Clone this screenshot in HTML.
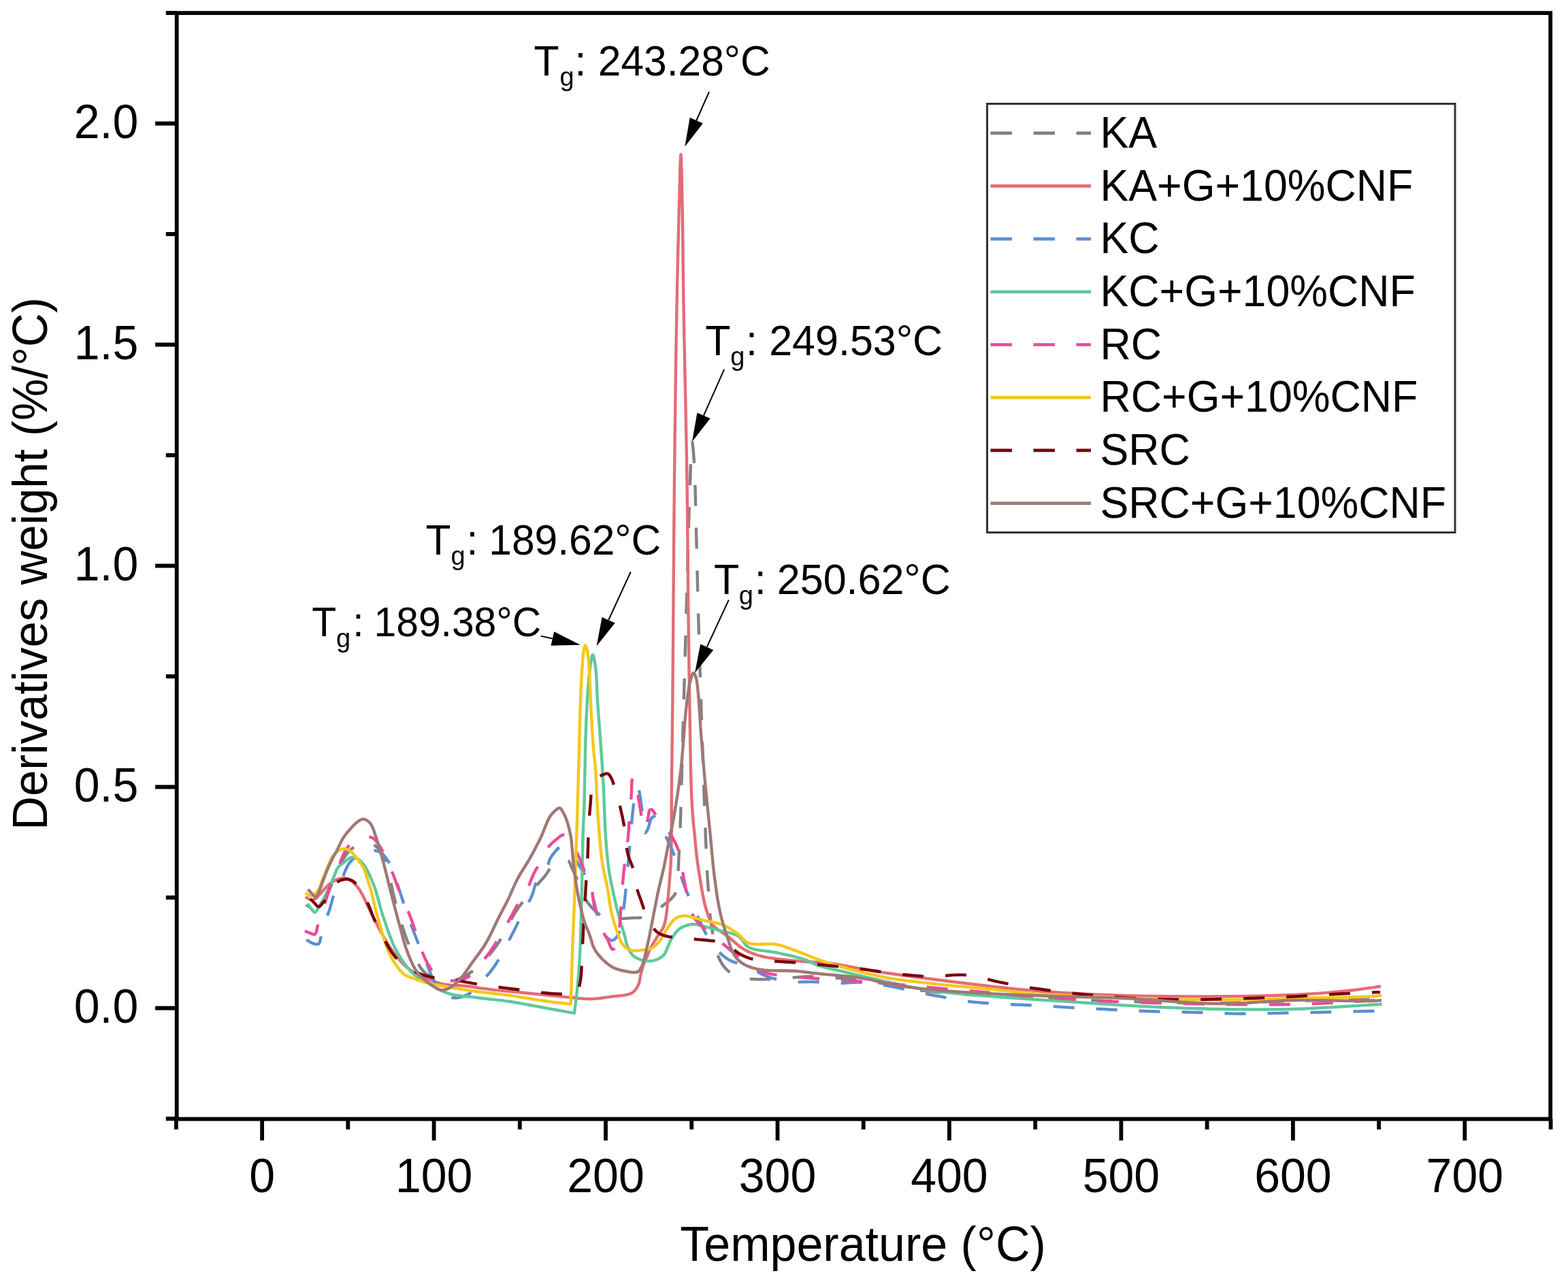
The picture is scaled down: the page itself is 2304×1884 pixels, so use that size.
<!DOCTYPE html>
<html><head><meta charset="utf-8"><title>DTG curves</title><style>html,body{margin:0;padding:0;background:#fff;overflow:hidden}</style></head><body>
<svg width="2304" height="1884" viewBox="0 0 2304 1884" style="display:block">
<rect width="2304" height="1884" fill="#fff"/>
<g font-family='"Liberation Sans", Arial, sans-serif' fill="#000">
<g fill="none" stroke-width="4.4" stroke-linejoin="round" stroke-linecap="butt">
<path d="M450.0,1330.0 L450.1,1330.1 L450.6,1330.3 L451.2,1330.6 L451.9,1331.0 L452.7,1331.4 L453.5,1331.9 L454.3,1332.5 L455.0,1333.0 L455.8,1333.7 L456.5,1334.6 L457.2,1335.5 L458.0,1336.4 L458.7,1337.4 L459.4,1338.4 L460.2,1339.2 L461.0,1340.0 L461.7,1340.7 L462.5,1341.4 L463.2,1342.1 L464.0,1342.7 L464.8,1343.3 L465.5,1343.7 L466.3,1344.0 L467.0,1344.0 L467.8,1343.7 L468.6,1343.1 L469.4,1342.2 L470.1,1341.1 L470.9,1339.9 L471.6,1338.6 L472.3,1337.3 L473.0,1336.0 L473.9,1334.2 L474.8,1332.1 L475.7,1330.0 L476.5,1327.7 L477.3,1325.3 L478.2,1322.9 L479.1,1320.4 L480.0,1318.0 L481.2,1315.1 L482.4,1312.0 L483.6,1308.9 L484.9,1305.7 L486.1,1302.5 L487.4,1299.3 L488.7,1296.1 L490.0,1293.0 L491.2,1290.0 L492.4,1287.1 L493.6,1284.1 L494.8,1281.2 L496.0,1278.3 L497.3,1275.5 L498.6,1272.7 L500.0,1270.0 L501.4,1267.5 L502.7,1265.1 L504.2,1262.7 L505.6,1260.4 L507.2,1258.1 L508.7,1255.9 L510.3,1253.9 L512.0,1252.0 L513.5,1250.5 L515.0,1249.0 L516.6,1247.6 L518.2,1246.3 L519.9,1245.1 L521.6,1244.0 L523.3,1242.9 L525.0,1242.0 L526.7,1241.2 L528.4,1240.4 L530.2,1239.7 L532.0,1239.1 L533.8,1238.6 L535.6,1238.2 L537.3,1238.0 L539.0,1238.0 L540.5,1238.1 L541.9,1238.4 L543.3,1238.8 L544.7,1239.2 L546.1,1239.8 L547.4,1240.5 L548.7,1241.2 L550.0,1242.0 L551.4,1242.9 L552.7,1243.9 L554.0,1245.0 L555.3,1246.2 L556.5,1247.4 L557.7,1248.8 L558.9,1250.3 L560.0,1252.0 L561.5,1254.7 L562.9,1257.7 L564.2,1261.1 L565.4,1264.6 L566.6,1268.3 L567.7,1272.2 L568.9,1276.1 L570.0,1280.0 L571.3,1284.8 L572.6,1289.8 L573.8,1295.0 L575.0,1300.3 L576.1,1305.7 L577.3,1311.1 L578.6,1316.6 L580.0,1322.0 L581.6,1327.9 L583.2,1334.0 L584.9,1340.1 L586.6,1346.3 L588.4,1352.4 L590.2,1358.4 L592.1,1364.3 L594.0,1370.0 L595.7,1375.0 L597.5,1379.9 L599.3,1384.7 L601.1,1389.5 L602.9,1394.1 L604.9,1398.6 L606.9,1402.9 L609.0,1407.0 L610.8,1410.3 L612.6,1413.5 L614.5,1416.6 L616.4,1419.6 L618.4,1422.5 L620.4,1425.2 L622.7,1427.7 L625.0,1430.0 L627.3,1432.0 L629.8,1434.0 L632.3,1435.8 L634.9,1437.4 L637.6,1438.9 L640.4,1440.2 L643.2,1441.2 L646.0,1442.0 L648.9,1442.5 L651.9,1442.7 L654.9,1442.6 L658.0,1442.4 L661.1,1442.0 L664.2,1441.4 L667.1,1440.8 L670.0,1440.0 L672.7,1439.1 L675.3,1438.1 L677.9,1436.9 L680.5,1435.6 L683.0,1434.2 L685.4,1432.8 L687.7,1431.4 L690.0,1430.0 L691.9,1428.8 L693.7,1427.7 L695.5,1426.5 L697.2,1425.4 L698.9,1424.2 L700.6,1422.9 L702.3,1421.5 L704.0,1420.0 L706.0,1418.1 L708.1,1416.0 L710.1,1413.8 L712.2,1411.5 L714.2,1409.1 L716.1,1406.7 L718.1,1404.4 L720.0,1402.0 L721.8,1399.7 L723.6,1397.5 L725.3,1395.4 L727.0,1393.2 L728.7,1390.9 L730.4,1388.4 L732.1,1385.8 L734.0,1383.0 L736.9,1378.3 L739.8,1373.0 L742.8,1367.2 L745.9,1361.2 L749.1,1355.1 L752.3,1349.1 L755.6,1343.3 L759.0,1338.0 L762.1,1333.5 L765.4,1329.0 L768.8,1324.6 L772.1,1320.4 L775.5,1316.3 L778.8,1312.3 L782.0,1308.6 L785.0,1305.0 L787.2,1302.5 L789.3,1300.1 L791.3,1297.9 L793.3,1295.7 L795.3,1293.6 L797.2,1291.4 L799.1,1289.3 L801.0,1287.0 L802.8,1284.6 L804.6,1281.9 L806.3,1279.2 L808.0,1276.5 L809.7,1273.9 L811.5,1271.6 L813.2,1269.6 L815.0,1268.0 L816.2,1267.2 L817.5,1266.6 L818.7,1266.2 L820.0,1265.8 L821.2,1265.6 L822.5,1265.4 L823.7,1265.2 L825.0,1265.0 L826.3,1264.8 L827.6,1264.6 L829.0,1264.4 L830.3,1264.2 L831.6,1264.2 L832.9,1264.3 L834.0,1264.5 L835.0,1265.0 L835.9,1265.7 L836.6,1266.7 L837.2,1267.9 L837.8,1269.2 L838.3,1270.6 L838.8,1272.1 L839.4,1273.5 L840.0,1275.0 L840.9,1276.9 L841.8,1278.8 L842.8,1280.8 L843.8,1282.9 L844.8,1285.0 L845.8,1287.3 L846.9,1289.6 L848.0,1292.0 L849.6,1295.6 L851.2,1299.7 L852.9,1304.0 L854.7,1308.4 L856.5,1312.8 L858.3,1316.9 L860.2,1320.7 L862.0,1324.0 L863.2,1325.9 L864.4,1327.5 L865.5,1329.1 L866.7,1330.5 L867.9,1331.9 L869.2,1333.2 L870.5,1334.6 L872.0,1336.0 L873.8,1337.8 L875.7,1339.6 L877.8,1341.5 L879.9,1343.3 L882.1,1345.1 L884.3,1346.6 L886.6,1348.0 L889.0,1349.0 L891.4,1349.7 L894.0,1350.1 L896.6,1350.3 L899.3,1350.4 L902.0,1350.3 L904.7,1350.2 L907.4,1350.1 L910.0,1350.0 L912.5,1350.0 L915.1,1349.9 L917.7,1349.8 L920.2,1349.6 L922.7,1349.5 L925.2,1349.3 L927.6,1349.1 L930.0,1349.0 L932.0,1348.9 L933.9,1348.9 L935.9,1348.9 L937.7,1348.8 L939.6,1348.8 L941.4,1348.6 L943.2,1348.4 L945.0,1348.0 L946.7,1347.5 L948.3,1346.9 L949.9,1346.3 L951.5,1345.5 L953.1,1344.7 L954.7,1343.9 L956.3,1343.0 L958.0,1342.0 L960.1,1340.8 L962.2,1339.4 L964.4,1337.9 L966.6,1336.3 L968.8,1334.7 L970.9,1333.1 L973.0,1331.5 L975.0,1330.0 L976.8,1328.6 L978.6,1327.3 L980.4,1325.9 L982.1,1324.5 L983.8,1323.1 L985.3,1321.7 L986.7,1320.4 L988.0,1319.0 L988.8,1318.1 L989.6,1317.2 L990.2,1316.4 L990.9,1315.6 L991.4,1314.7 L992.0,1313.6 L992.5,1312.4 L993.0,1311.0 L994.2,1306.3 L995.1,1300.3 L995.8,1293.3 L996.3,1285.4 L996.7,1276.9 L997.1,1268.1 L997.5,1259.0 L998.0,1250.0 L998.7,1236.9 L999.3,1222.7 L999.8,1207.7 L1000.3,1192.2 L1000.7,1176.4 L1001.1,1160.6 L1001.6,1145.0 L1002.0,1130.0 L1002.4,1116.1 L1002.8,1102.5 L1003.2,1089.0 L1003.5,1075.5 L1003.9,1062.0 L1004.2,1048.3 L1004.6,1034.4 L1005.0,1020.0 L1005.5,1003.3 L1006.0,986.2 L1006.5,968.7 L1007.0,951.1 L1007.5,933.2 L1008.0,915.4 L1008.5,897.6 L1009.0,880.0 L1009.5,862.3 L1010.0,844.3 L1010.5,826.1 L1010.9,808.1 L1011.4,790.2 L1011.9,772.8 L1012.4,756.0 L1013.0,740.0 L1013.5,726.6 L1013.9,711.9 L1014.4,696.9 L1014.9,682.5 L1015.4,669.7 L1015.9,659.4 L1016.4,652.5 L1017.0,650.0 L1017.4,650.8 L1017.7,652.9 L1018.1,656.1 L1018.5,660.1 L1018.9,664.8 L1019.3,669.8 L1019.7,675.0 L1020.0,680.0 L1020.5,689.6 L1021.0,700.7 L1021.4,712.8 L1021.7,725.8 L1022.0,739.3 L1022.3,753.0 L1022.7,766.7 L1023.0,780.0 L1023.4,794.6 L1023.8,809.5 L1024.1,824.7 L1024.5,840.0 L1024.9,855.3 L1025.2,870.5 L1025.6,885.4 L1026.0,900.0 L1026.4,912.9 L1026.7,925.4 L1027.1,937.8 L1027.4,950.0 L1027.8,962.2 L1028.2,974.6 L1028.6,987.1 L1029.0,1000.0 L1029.5,1014.6 L1030.0,1029.5 L1030.5,1044.7 L1031.0,1060.1 L1031.5,1075.4 L1032.0,1090.6 L1032.5,1105.5 L1033.0,1120.0 L1033.4,1132.9 L1033.9,1145.7 L1034.3,1158.5 L1034.7,1171.0 L1035.1,1183.3 L1035.6,1195.3 L1036.0,1206.9 L1036.4,1218.0 L1036.7,1226.6 L1037.0,1235.0 L1037.4,1243.3 L1037.7,1251.3 L1038.0,1259.0 L1038.3,1266.4 L1038.7,1273.4 L1039.0,1280.0 L1039.2,1284.3 L1039.5,1288.2 L1039.7,1292.0 L1040.0,1295.6 L1040.2,1299.2 L1040.5,1302.7 L1040.8,1306.3 L1041.0,1310.0 L1041.2,1313.9 L1041.4,1317.8 L1041.6,1321.7 L1041.8,1325.6 L1042.0,1329.6 L1042.3,1333.6 L1042.6,1337.7 L1043.0,1342.0 L1043.6,1347.4 L1044.4,1353.3 L1045.3,1359.4 L1046.2,1365.6 L1047.2,1371.6 L1048.1,1377.3 L1049.1,1382.5 L1050.0,1387.0 L1050.5,1389.3 L1050.9,1391.3 L1051.4,1393.2 L1051.8,1395.0 L1052.3,1396.7 L1052.8,1398.5 L1053.3,1400.2 L1054.0,1402.0 L1054.8,1404.0 L1055.7,1406.1 L1056.6,1408.3 L1057.6,1410.4 L1058.7,1412.4 L1059.8,1414.4 L1060.9,1416.3 L1062.0,1418.0 L1062.9,1419.3 L1063.8,1420.5 L1064.7,1421.7 L1065.7,1422.8 L1066.7,1423.8 L1067.7,1424.9 L1068.8,1425.9 L1070.0,1427.0 L1071.6,1428.4 L1073.2,1429.8 L1075.0,1431.2 L1076.8,1432.5 L1078.7,1433.9 L1080.7,1435.1 L1082.8,1436.1 L1085.0,1437.0 L1087.8,1437.8 L1090.8,1438.3 L1093.9,1438.6 L1097.2,1438.8 L1100.5,1438.9 L1103.8,1438.9 L1107.0,1438.9 L1110.0,1439.0 L1112.6,1439.1 L1115.1,1439.2 L1117.5,1439.2 L1119.9,1439.2 L1122.3,1439.2 L1124.8,1439.1 L1127.3,1439.1 L1130.0,1439.0 L1133.5,1438.9 L1137.1,1438.7 L1140.8,1438.4 L1144.6,1438.1 L1148.4,1437.8 L1152.3,1437.5 L1156.2,1437.3 L1160.0,1437.0 L1163.9,1436.7 L1167.8,1436.4 L1171.6,1436.1 L1175.5,1435.7 L1179.5,1435.5 L1183.5,1435.2 L1187.7,1435.1 L1192.0,1435.0 L1197.6,1435.1 L1203.4,1435.3 L1209.4,1435.6 L1215.5,1436.0 L1221.7,1436.4 L1227.9,1437.0 L1234.0,1437.5 L1240.0,1438.0 L1245.6,1438.5 L1251.1,1439.0 L1256.5,1439.5 L1261.9,1440.1 L1267.4,1440.7 L1272.8,1441.4 L1278.4,1442.2 L1284.0,1443.0 L1290.2,1444.0 L1296.4,1445.2 L1302.6,1446.6 L1308.9,1447.9 L1315.2,1449.3 L1321.7,1450.6 L1328.3,1451.9 L1335.0,1453.0 L1342.6,1454.1 L1350.3,1455.1 L1358.2,1456.0 L1366.1,1456.9 L1374.2,1457.7 L1382.6,1458.5 L1391.1,1459.2 L1400.0,1460.0 L1411.5,1460.9 L1423.5,1461.8 L1435.9,1462.6 L1448.6,1463.3 L1461.5,1464.0 L1474.5,1464.7 L1487.3,1465.4 L1500.0,1466.0 L1512.5,1466.6 L1525.0,1467.2 L1537.5,1467.7 L1550.0,1468.2 L1562.5,1468.7 L1575.0,1469.1 L1587.5,1469.6 L1600.0,1470.0 L1612.5,1470.4 L1625.0,1470.9 L1637.5,1471.3 L1650.0,1471.7 L1662.5,1472.1 L1675.0,1472.4 L1687.5,1472.7 L1700.0,1473.0 L1712.5,1473.2 L1725.0,1473.5 L1737.5,1473.7 L1750.0,1473.9 L1762.5,1474.0 L1775.0,1474.1 L1787.5,1474.1 L1800.0,1474.0 L1812.4,1473.8 L1824.7,1473.5 L1836.9,1473.2 L1849.2,1472.7 L1861.5,1472.3 L1874.1,1471.8 L1886.9,1471.4 L1900.0,1471.0 L1917.2,1470.6 L1937.4,1470.1 L1958.9,1469.6 L1980.2,1469.1 L1999.5,1468.7 L2015.4,1468.3 L2026.1,1468.1 L2030.0,1468.0" stroke="#828282" stroke-dasharray="31 32" stroke-dashoffset="20.7"/>
<path d="M449.0,1318.0 L449.2,1318.2 L449.8,1318.6 L450.6,1319.1 L451.6,1319.8 L452.7,1320.5 L453.9,1321.2 L455.0,1321.7 L456.0,1322.0 L456.9,1322.1 L457.7,1322.2 L458.6,1322.2 L459.5,1322.1 L460.4,1321.9 L461.3,1321.7 L462.2,1321.4 L463.0,1321.0 L463.9,1320.4 L464.8,1319.7 L465.7,1318.9 L466.5,1318.0 L467.4,1317.0 L468.2,1316.0 L469.1,1315.0 L470.0,1314.0 L471.2,1312.7 L472.4,1311.4 L473.6,1310.0 L474.9,1308.5 L476.1,1307.1 L477.4,1305.6 L478.7,1304.3 L480.0,1303.0 L481.2,1301.9 L482.4,1300.8 L483.7,1299.7 L484.9,1298.6 L486.2,1297.6 L487.4,1296.7 L488.7,1295.8 L490.0,1295.0 L491.2,1294.3 L492.5,1293.7 L493.8,1293.1 L495.0,1292.6 L496.3,1292.1 L497.6,1291.7 L498.8,1291.3 L500.0,1291.0 L500.9,1290.8 L501.8,1290.6 L502.7,1290.5 L503.5,1290.4 L504.4,1290.4 L505.2,1290.4 L506.1,1290.5 L507.0,1290.6 L508.2,1290.9 L509.4,1291.2 L510.7,1291.6 L512.0,1292.1 L513.2,1292.7 L514.5,1293.4 L515.8,1294.2 L517.0,1295.0 L518.5,1296.2 L520.0,1297.6 L521.5,1299.1 L522.9,1300.7 L524.4,1302.4 L525.8,1304.3 L527.3,1306.3 L528.7,1308.4 L530.7,1311.7 L532.8,1315.4 L534.8,1319.4 L536.8,1323.6 L538.8,1328.0 L540.8,1332.3 L542.8,1336.5 L544.8,1340.6 L546.7,1344.4 L548.6,1348.1 L550.5,1351.9 L552.4,1355.6 L554.3,1359.2 L556.1,1362.9 L558.1,1366.5 L560.0,1370.0 L561.8,1373.3 L563.7,1376.5 L565.5,1379.7 L567.4,1382.9 L569.2,1386.1 L571.1,1389.1 L573.0,1392.1 L575.0,1395.0 L576.8,1397.6 L578.6,1400.1 L580.5,1402.6 L582.3,1405.0 L584.2,1407.4 L586.1,1409.7 L588.0,1411.9 L590.0,1414.0 L591.8,1415.8 L593.6,1417.6 L595.4,1419.3 L597.2,1421.0 L599.0,1422.6 L601.0,1424.1 L602.9,1425.6 L605.0,1427.0 L607.3,1428.4 L609.6,1429.8 L612.1,1431.1 L614.6,1432.3 L617.1,1433.5 L619.7,1434.7 L622.3,1435.9 L625.0,1437.0 L627.9,1438.3 L630.9,1439.5 L633.9,1440.8 L637.0,1442.0 L640.1,1443.1 L643.3,1444.2 L646.6,1445.2 L650.0,1446.0 L654.0,1446.7 L658.1,1447.2 L662.3,1447.6 L666.6,1447.9 L670.9,1448.1 L675.3,1448.3 L679.7,1448.6 L684.0,1449.0 L688.4,1449.5 L692.9,1450.1 L697.3,1450.8 L701.8,1451.5 L706.3,1452.1 L710.8,1452.8 L715.4,1453.4 L720.0,1454.0 L724.9,1454.6 L729.8,1455.1 L734.8,1455.6 L739.9,1456.1 L744.9,1456.6 L749.9,1457.0 L755.0,1457.5 L760.0,1458.0 L765.0,1458.5 L770.0,1459.0 L775.0,1459.5 L780.0,1460.0 L785.0,1460.5 L790.0,1461.0 L795.0,1461.5 L800.0,1462.0 L805.0,1462.5 L810.2,1463.0 L815.3,1463.6 L820.4,1464.1 L825.5,1464.6 L830.5,1465.1 L835.3,1465.6 L840.0,1466.0 L843.7,1466.3 L847.3,1466.7 L850.8,1467.1 L854.2,1467.4 L857.6,1467.7 L861.0,1467.9 L864.5,1468.0 L868.0,1468.0 L871.8,1467.8 L875.7,1467.6 L879.6,1467.2 L883.5,1466.7 L887.4,1466.2 L891.3,1465.6 L895.2,1465.1 L899.0,1464.5 L902.8,1464.0 L906.7,1463.7 L910.7,1463.3 L914.7,1462.9 L918.5,1462.4 L922.0,1461.7 L925.2,1460.8 L928.0,1459.5 L929.7,1458.4 L931.3,1457.1 L932.7,1455.7 L933.9,1454.2 L935.0,1452.6 L936.1,1451.0 L937.0,1449.3 L937.9,1447.6 L938.7,1445.7 L939.3,1443.7 L939.8,1441.6 L940.2,1439.4 L940.5,1437.3 L940.9,1435.1 L941.2,1433.0 L941.7,1431.0 L942.1,1429.3 L942.6,1427.6 L943.0,1426.0 L943.5,1424.3 L944.0,1422.7 L944.4,1421.2 L945.0,1419.6 L945.5,1418.0 L946.1,1416.5 L946.7,1414.9 L947.3,1413.4 L948.0,1412.0 L948.6,1410.5 L949.3,1409.0 L950.0,1407.5 L950.6,1406.0 L951.2,1404.5 L951.8,1403.0 L952.4,1401.6 L952.9,1400.1 L953.5,1398.6 L954.2,1397.1 L954.9,1395.6 L955.6,1394.0 L956.6,1392.1 L957.7,1390.1 L958.8,1388.1 L960.0,1386.1 L961.3,1384.1 L962.5,1382.0 L963.8,1380.0 L965.0,1378.0 L966.3,1376.0 L967.6,1374.0 L969.0,1372.1 L970.3,1370.1 L971.7,1368.1 L972.9,1366.1 L974.0,1364.1 L975.0,1362.0 L975.8,1360.0 L976.4,1357.9 L977.0,1355.9 L977.5,1353.8 L977.9,1351.7 L978.3,1349.5 L978.6,1347.3 L979.0,1345.0 L979.4,1342.1 L979.8,1339.1 L980.1,1335.9 L980.4,1332.7 L980.7,1329.5 L981.0,1326.3 L981.2,1323.1 L981.5,1320.0 L981.8,1317.2 L982.0,1314.5 L982.3,1311.9 L982.5,1309.3 L982.8,1306.6 L983.0,1303.9 L983.3,1301.0 L983.5,1298.0 L983.8,1293.9 L984.2,1289.7 L984.5,1285.4 L984.8,1280.9 L985.2,1276.2 L985.5,1271.1 L985.8,1265.8 L986.0,1260.0 L986.3,1248.9 L986.5,1236.3 L986.7,1222.5 L986.7,1207.9 L986.8,1193.0 L986.8,1178.1 L986.9,1163.6 L987.0,1150.0 L987.1,1138.4 L987.2,1127.1 L987.4,1116.0 L987.5,1105.0 L987.6,1094.0 L987.8,1082.9 L987.9,1071.6 L988.0,1060.0 L988.1,1047.1 L988.3,1034.3 L988.4,1021.5 L988.5,1008.5 L988.6,995.0 L988.7,980.9 L988.9,966.0 L989.0,950.0 L989.2,923.6 L989.4,894.6 L989.6,863.7 L989.9,831.3 L990.1,798.2 L990.4,764.9 L990.7,731.9 L991.0,700.0 L991.4,668.3 L991.7,636.0 L992.2,603.5 L992.6,571.0 L993.0,539.1 L993.5,508.0 L994.0,478.2 L994.5,450.0 L994.9,429.1 L995.3,408.6 L995.8,388.6 L996.2,369.3 L996.7,350.7 L997.1,332.8 L997.6,315.9 L998.0,300.0 L998.3,288.6 L998.6,276.5 L998.9,264.3 L999.2,252.7 L999.5,242.5 L999.8,234.4 L1000.1,229.0 L1000.4,227.0 L1000.7,229.0 L1001.0,234.4 L1001.2,242.5 L1001.5,252.7 L1001.8,264.3 L1002.0,276.5 L1002.3,288.6 L1002.5,300.0 L1002.8,315.9 L1003.0,332.9 L1003.3,350.7 L1003.5,369.4 L1003.7,388.7 L1003.9,408.7 L1004.2,429.1 L1004.5,450.0 L1005.0,477.9 L1005.6,507.6 L1006.2,538.5 L1006.9,570.1 L1007.6,602.1 L1008.2,633.9 L1008.8,665.0 L1009.3,695.0 L1009.7,721.7 L1010.0,748.2 L1010.2,774.4 L1010.5,800.4 L1010.7,826.0 L1010.9,851.1 L1011.1,875.8 L1011.4,900.0 L1011.7,920.8 L1011.9,941.4 L1012.2,961.8 L1012.5,981.8 L1012.8,1001.3 L1013.1,1020.3 L1013.4,1038.5 L1013.7,1056.0 L1013.9,1069.1 L1014.1,1081.9 L1014.3,1094.3 L1014.5,1106.3 L1014.7,1117.9 L1014.9,1129.1 L1015.2,1139.8 L1015.5,1150.0 L1015.8,1157.1 L1016.0,1164.0 L1016.3,1170.7 L1016.6,1177.1 L1016.9,1183.2 L1017.3,1189.1 L1017.6,1194.7 L1018.0,1200.0 L1018.3,1203.5 L1018.6,1206.8 L1018.9,1209.8 L1019.2,1212.8 L1019.5,1215.7 L1019.8,1218.7 L1020.2,1221.7 L1020.5,1225.0 L1020.9,1229.1 L1021.3,1233.4 L1021.7,1237.9 L1022.1,1242.4 L1022.6,1246.9 L1023.0,1251.4 L1023.5,1255.8 L1024.0,1260.0 L1024.4,1263.6 L1024.9,1267.0 L1025.3,1270.4 L1025.8,1273.7 L1026.2,1277.1 L1026.8,1280.5 L1027.4,1284.2 L1028.0,1288.0 L1029.0,1293.7 L1030.0,1299.9 L1031.1,1306.4 L1032.3,1313.2 L1033.6,1319.8 L1035.0,1326.2 L1036.5,1332.2 L1038.0,1337.5 L1039.1,1340.8 L1040.1,1344.0 L1041.1,1347.0 L1042.2,1349.8 L1043.4,1352.6 L1044.8,1355.1 L1046.3,1357.6 L1048.0,1360.0 L1050.0,1362.2 L1052.3,1364.2 L1054.7,1366.1 L1057.3,1367.8 L1059.9,1369.5 L1062.6,1371.3 L1065.3,1373.1 L1068.0,1375.0 L1071.0,1377.4 L1074.0,1380.0 L1077.1,1382.7 L1080.2,1385.4 L1083.3,1388.1 L1086.5,1390.6 L1089.7,1392.9 L1093.0,1395.0 L1096.0,1396.7 L1098.9,1398.2 L1101.8,1399.5 L1104.8,1400.8 L1107.8,1401.9 L1111.0,1403.0 L1114.4,1404.0 L1118.0,1405.0 L1123.4,1406.3 L1129.2,1407.4 L1135.3,1408.3 L1141.7,1409.2 L1148.3,1409.9 L1154.9,1410.6 L1161.5,1411.3 L1168.0,1412.0 L1174.6,1412.6 L1181.3,1413.1 L1187.9,1413.5 L1194.6,1413.8 L1201.4,1414.2 L1208.2,1414.7 L1215.1,1415.2 L1222.0,1416.0 L1229.5,1417.0 L1236.9,1418.3 L1244.3,1419.6 L1251.8,1421.1 L1259.4,1422.6 L1267.3,1424.1 L1275.5,1425.6 L1284.0,1427.0 L1295.4,1428.8 L1307.3,1430.5 L1319.5,1432.3 L1332.2,1434.0 L1345.2,1435.8 L1358.6,1437.5 L1372.2,1439.3 L1386.0,1441.0 L1403.1,1443.1 L1420.8,1445.3 L1439.1,1447.5 L1457.7,1449.6 L1476.6,1451.7 L1495.7,1453.7 L1514.9,1455.4 L1534.0,1457.0 L1554.2,1458.4 L1574.4,1459.7 L1594.9,1460.7 L1615.4,1461.7 L1636.2,1462.4 L1657.2,1463.1 L1678.5,1463.6 L1700.0,1464.0 L1724.6,1464.3 L1750.5,1464.4 L1777.2,1464.4 L1803.9,1464.2 L1830.0,1463.9 L1855.0,1463.4 L1878.2,1462.8 L1899.0,1462.0 L1911.0,1461.4 L1922.3,1460.8 L1932.9,1460.1 L1943.0,1459.4 L1952.7,1458.6 L1962.0,1457.8 L1971.1,1456.9 L1980.0,1456.0 L1987.4,1455.2 L1995.4,1454.2 L2003.6,1453.1 L2011.4,1452.0 L2018.3,1451.1 L2023.9,1450.2 L2027.6,1449.7 L2029.0,1449.5" stroke="#E46C75"/>
<path d="M450.5,1381.0 L450.7,1381.2 L451.4,1381.6 L452.4,1382.3 L453.6,1383.1 L455.0,1384.0 L456.4,1384.8 L457.8,1385.5 L459.0,1386.0 L460.1,1386.4 L461.3,1386.8 L462.5,1387.2 L463.7,1387.5 L464.9,1387.7 L466.0,1387.7 L467.1,1387.5 L468.0,1387.0 L469.3,1385.4 L470.2,1383.0 L470.9,1379.9 L471.5,1376.3 L472.0,1372.5 L472.5,1368.6 L473.1,1364.9 L474.0,1361.6 L475.0,1358.7 L476.2,1355.8 L477.4,1353.0 L478.7,1350.3 L479.9,1347.5 L481.2,1344.7 L482.4,1341.9 L483.5,1339.0 L484.5,1336.0 L485.4,1333.0 L486.2,1329.9 L487.1,1326.8 L487.9,1323.7 L488.8,1320.7 L489.7,1317.7 L490.8,1314.8 L491.9,1312.1 L493.2,1309.5 L494.5,1306.9 L495.8,1304.4 L497.2,1301.9 L498.5,1299.3 L499.9,1296.7 L501.3,1294.0 L502.8,1290.8 L504.2,1287.3 L505.7,1283.8 L507.1,1280.2 L508.7,1276.7 L510.3,1273.3 L512.1,1270.2 L514.0,1267.5 L515.8,1265.5 L517.6,1263.6 L519.6,1261.9 L521.6,1260.3 L523.7,1258.8 L525.8,1257.4 L527.9,1256.2 L530.0,1255.0 L531.8,1254.1 L533.7,1253.2 L535.6,1252.4 L537.5,1251.7 L539.4,1251.1 L541.3,1250.6 L543.2,1250.2 L545.0,1250.0 L546.7,1249.9 L548.4,1249.9 L550.0,1249.9 L551.7,1250.1 L553.3,1250.4 L554.9,1250.8 L556.5,1251.3 L558.0,1252.0 L559.7,1253.0 L561.3,1254.2 L562.8,1255.6 L564.3,1257.2 L565.8,1259.0 L567.2,1260.9 L568.6,1262.9 L570.0,1265.0 L572.0,1268.4 L573.8,1272.3 L575.6,1276.5 L577.3,1281.0 L579.0,1285.7 L580.6,1290.5 L582.3,1295.3 L584.0,1300.0 L585.9,1305.4 L587.8,1310.9 L589.6,1316.6 L591.5,1322.3 L593.3,1328.1 L595.2,1333.8 L597.1,1339.5 L599.0,1345.0 L600.8,1350.2 L602.7,1355.3 L604.6,1360.5 L606.5,1365.5 L608.4,1370.6 L610.3,1375.5 L612.2,1380.3 L614.0,1385.0 L615.6,1389.0 L617.1,1392.8 L618.7,1396.6 L620.2,1400.3 L621.8,1404.0 L623.3,1407.6 L624.9,1411.3 L626.5,1415.0 L628.1,1418.8 L629.6,1422.7 L631.0,1426.6 L632.5,1430.6 L634.1,1434.4 L635.8,1438.1 L637.8,1441.7 L640.0,1445.0 L642.5,1448.2 L645.1,1451.5 L648.0,1454.8 L651.0,1457.8 L654.2,1460.6 L657.4,1463.0 L660.7,1464.8 L664.0,1466.0 L667.1,1466.5 L670.4,1466.5 L673.8,1466.1 L677.2,1465.3 L680.6,1464.3 L683.9,1463.0 L687.0,1461.5 L690.0,1460.0 L692.8,1458.2 L695.5,1456.0 L698.1,1453.6 L700.6,1450.9 L703.0,1448.2 L705.4,1445.4 L707.7,1442.6 L710.0,1440.0 L712.2,1437.6 L714.3,1435.3 L716.3,1433.0 L718.3,1430.7 L720.4,1428.3 L722.4,1425.7 L724.4,1423.0 L726.5,1420.0 L729.6,1415.3 L732.7,1410.1 L735.9,1404.4 L739.1,1398.6 L742.3,1392.5 L745.5,1386.5 L748.6,1380.6 L751.5,1375.0 L754.1,1369.9 L756.8,1364.7 L759.3,1359.6 L761.8,1354.4 L764.3,1349.5 L766.6,1344.7 L768.9,1340.2 L771.0,1336.0 L772.4,1333.4 L773.7,1331.0 L775.0,1328.8 L776.3,1326.6 L777.5,1324.5 L778.7,1322.3 L779.8,1320.0 L781.0,1317.5 L782.3,1314.2 L783.5,1310.6 L784.6,1306.8 L785.7,1303.0 L786.9,1299.2 L788.1,1295.5 L789.5,1292.1 L791.0,1289.0 L792.4,1286.8 L794.1,1284.8 L795.8,1282.9 L797.6,1281.1 L799.4,1279.3 L801.0,1277.6 L802.5,1275.9 L803.8,1274.0 L804.6,1272.4 L805.3,1270.8 L805.8,1269.2 L806.3,1267.5 L806.7,1265.9 L807.3,1264.3 L807.9,1262.6 L808.8,1261.0 L810.2,1258.8 L811.9,1256.3 L813.8,1253.8 L815.8,1251.3 L817.9,1249.0 L820.0,1246.9 L821.9,1245.1 L823.8,1243.8 L824.9,1243.2 L825.9,1242.7 L826.9,1242.2 L828.0,1241.9 L829.0,1241.6 L830.0,1241.6 L831.0,1241.7 L832.0,1242.0 L833.7,1243.1 L835.3,1244.8 L836.8,1247.1 L838.4,1249.8 L840.0,1252.7 L841.6,1255.9 L843.3,1259.0 L845.0,1262.0 L847.5,1266.1 L850.3,1270.7 L853.3,1275.5 L856.3,1280.5 L859.1,1285.4 L861.8,1290.3 L864.1,1294.8 L866.0,1299.0 L867.0,1301.5 L867.7,1303.8 L868.3,1306.0 L868.8,1308.1 L869.3,1310.2 L869.8,1312.4 L870.3,1314.8 L871.0,1317.5 L872.2,1322.2 L873.5,1327.6 L874.9,1333.5 L876.4,1339.6 L877.9,1345.6 L879.4,1351.3 L881.0,1356.6 L882.5,1361.0 L883.4,1363.4 L884.2,1365.6 L885.1,1367.6 L885.9,1369.6 L886.8,1371.4 L887.8,1373.1 L888.8,1374.6 L890.0,1376.0 L891.1,1377.1 L892.3,1378.3 L893.6,1379.4 L894.9,1380.3 L896.2,1381.1 L897.5,1381.7 L898.8,1382.0 L900.0,1382.0 L901.4,1381.5 L902.7,1380.7 L904.1,1379.4 L905.4,1377.9 L906.6,1376.1 L907.8,1374.2 L909.0,1372.1 L910.0,1370.0 L911.4,1366.3 L912.6,1361.9 L913.6,1357.1 L914.4,1351.9 L915.0,1346.5 L915.7,1340.9 L916.3,1335.4 L917.0,1330.0 L917.8,1324.0 L918.5,1317.8 L919.1,1311.6 L919.7,1305.2 L920.3,1298.8 L920.9,1292.5 L921.4,1286.2 L922.0,1280.0 L922.5,1274.2 L923.1,1268.5 L923.6,1262.7 L924.1,1257.0 L924.6,1251.4 L925.1,1245.8 L925.5,1240.3 L926.0,1235.0 L926.4,1230.4 L926.8,1225.8 L927.1,1221.3 L927.5,1216.9 L927.9,1212.5 L928.2,1208.2 L928.6,1204.1 L929.0,1200.0 L929.4,1196.6 L929.7,1193.4 L930.1,1190.2 L930.4,1187.0 L930.8,1183.9 L931.2,1180.9 L931.6,1177.9 L932.0,1175.0 L932.3,1172.3 L932.6,1169.3 L932.9,1166.2 L933.2,1163.2 L933.5,1160.5 L933.9,1158.3 L934.4,1156.7 L935.0,1156.0 L935.3,1156.0 L935.6,1156.0 L935.9,1156.2 L936.2,1156.4 L936.6,1156.7 L936.9,1157.1 L937.2,1157.5 L937.5,1158.0 L938.2,1159.6 L938.9,1161.7 L939.5,1164.3 L940.1,1167.3 L940.6,1170.4 L941.1,1173.7 L941.5,1176.9 L942.0,1180.0 L942.5,1183.6 L942.9,1187.4 L943.2,1191.4 L943.5,1195.4 L943.9,1199.4 L944.2,1203.2 L944.6,1206.8 L945.0,1210.0 L945.3,1212.2 L945.6,1214.5 L945.9,1216.8 L946.3,1219.0 L946.6,1220.9 L947.0,1222.5 L947.5,1223.5 L948.0,1224.0 L948.4,1223.9 L948.9,1223.5 L949.4,1222.9 L949.9,1222.0 L950.5,1221.1 L951.0,1220.0 L951.5,1219.0 L952.0,1218.0 L952.7,1216.4 L953.3,1214.5 L953.8,1212.4 L954.4,1210.2 L955.0,1208.0 L955.6,1206.1 L956.3,1204.3 L957.0,1203.0 L957.5,1202.4 L957.9,1201.8 L958.5,1201.3 L959.0,1200.8 L959.5,1200.4 L960.0,1200.1 L960.5,1200.0 L961.0,1200.0 L961.6,1200.3 L962.3,1201.0 L962.9,1201.9 L963.5,1203.0 L964.1,1204.2 L964.7,1205.5 L965.3,1206.8 L966.0,1208.0 L967.0,1209.6 L968.0,1211.3 L969.1,1213.0 L970.3,1214.8 L971.4,1216.7 L972.6,1218.7 L973.8,1220.8 L975.0,1223.0 L976.8,1226.4 L978.6,1230.0 L980.5,1233.8 L982.5,1237.8 L984.4,1242.0 L986.3,1246.3 L988.2,1250.6 L990.0,1255.0 L992.0,1260.3 L993.9,1265.8 L995.7,1271.5 L997.5,1277.4 L999.4,1283.2 L1001.2,1289.0 L1003.1,1294.6 L1005.0,1300.0 L1006.8,1304.6 L1008.5,1309.0 L1010.3,1313.2 L1012.1,1317.5 L1013.9,1321.7 L1015.9,1326.0 L1017.9,1330.4 L1020.0,1335.0 L1022.7,1341.0 L1025.6,1347.4 L1028.5,1354.0 L1031.6,1360.8 L1034.8,1367.4 L1038.1,1373.8 L1041.5,1379.7 L1045.0,1385.0 L1047.8,1388.8 L1050.7,1392.5 L1053.6,1395.9 L1056.6,1399.1 L1059.8,1402.2 L1063.0,1405.0 L1066.4,1407.6 L1070.0,1410.0 L1074.0,1412.1 L1078.5,1413.9 L1083.1,1415.4 L1087.9,1416.7 L1092.6,1417.9 L1097.1,1419.1 L1101.3,1420.5 L1105.0,1422.0 L1107.2,1423.2 L1109.1,1424.5 L1110.8,1425.8 L1112.5,1427.1 L1114.1,1428.4 L1115.9,1429.6 L1117.8,1430.9 L1120.0,1432.0 L1123.6,1433.5 L1127.5,1435.0 L1131.7,1436.5 L1136.2,1437.8 L1140.8,1439.1 L1145.5,1440.2 L1150.3,1441.2 L1155.0,1442.0 L1160.4,1442.6 L1166.0,1443.0 L1171.8,1443.1 L1177.7,1443.1 L1183.5,1443.0 L1189.2,1442.9 L1194.8,1442.9 L1200.0,1443.0 L1204.0,1443.2 L1207.8,1443.5 L1211.5,1443.8 L1215.0,1444.1 L1218.6,1444.4 L1222.3,1444.7 L1226.0,1444.9 L1230.0,1445.0 L1234.9,1445.0 L1239.8,1444.8 L1244.8,1444.4 L1249.9,1444.1 L1255.2,1443.8 L1260.8,1443.6 L1266.7,1443.6 L1273.0,1444.0 L1284.1,1445.3 L1296.6,1447.3 L1310.2,1449.8 L1324.3,1452.7 L1338.4,1455.7 L1352.0,1458.6 L1364.7,1461.3 L1376.0,1463.5 L1382.7,1464.7 L1388.9,1465.9 L1394.8,1467.1 L1400.4,1468.1 L1405.9,1469.1 L1411.4,1470.0 L1417.1,1470.9 L1423.0,1471.7 L1429.7,1472.5 L1436.6,1473.1 L1443.6,1473.7 L1450.7,1474.2 L1457.8,1474.7 L1464.7,1475.1 L1471.5,1475.4 L1478.0,1475.8 L1483.4,1476.1 L1488.5,1476.3 L1493.5,1476.5 L1498.4,1476.6 L1503.3,1476.8 L1508.3,1477.0 L1513.5,1477.2 L1519.0,1477.4 L1526.1,1477.8 L1533.4,1478.2 L1541.0,1478.6 L1548.8,1479.1 L1556.6,1479.6 L1564.5,1480.1 L1572.3,1480.6 L1580.0,1481.0 L1587.5,1481.4 L1595.0,1481.8 L1602.5,1482.2 L1610.0,1482.6 L1617.5,1482.9 L1625.0,1483.3 L1632.5,1483.7 L1640.0,1484.0 L1647.5,1484.3 L1655.0,1484.7 L1662.5,1485.0 L1670.0,1485.4 L1677.5,1485.7 L1685.0,1486.0 L1692.5,1486.2 L1700.0,1486.5 L1707.5,1486.7 L1715.0,1486.9 L1722.5,1487.0 L1730.0,1487.2 L1737.5,1487.3 L1745.0,1487.5 L1752.5,1487.6 L1760.0,1487.8 L1767.4,1488.0 L1774.8,1488.3 L1782.1,1488.6 L1789.5,1488.9 L1796.9,1489.2 L1804.4,1489.4 L1812.1,1489.6 L1820.0,1489.7 L1829.2,1489.7 L1838.6,1489.7 L1848.1,1489.5 L1857.7,1489.3 L1867.6,1489.1 L1877.8,1488.9 L1888.2,1488.6 L1899.0,1488.4 L1914.8,1488.1 L1933.8,1487.7 L1954.2,1487.2 L1974.6,1486.8 L1993.2,1486.4 L2008.5,1486.0 L2018.9,1485.8 L2022.7,1485.7" stroke="#5B8FD0" stroke-dasharray="31 32" stroke-dashoffset="0.0"/>
<path d="M452.0,1328.0 L452.2,1328.3 L452.7,1328.9 L453.4,1329.9 L454.3,1331.2 L455.2,1332.5 L456.2,1333.8 L457.2,1335.0 L458.0,1336.0 L458.6,1336.7 L459.2,1337.5 L459.7,1338.3 L460.3,1339.0 L460.8,1339.7 L461.4,1340.2 L462.0,1340.5 L462.6,1340.6 L463.5,1340.3 L464.4,1339.4 L465.3,1338.2 L466.2,1336.8 L467.1,1335.1 L468.1,1333.3 L469.0,1331.6 L470.0,1330.0 L471.2,1328.0 L472.5,1325.9 L473.7,1323.7 L475.0,1321.5 L476.3,1319.1 L477.5,1316.8 L478.8,1314.4 L480.0,1312.0 L481.3,1309.3 L482.6,1306.6 L483.9,1303.8 L485.2,1300.9 L486.5,1298.1 L487.7,1295.3 L488.9,1292.6 L490.0,1290.0 L490.9,1287.9 L491.6,1285.9 L492.4,1283.9 L493.1,1281.9 L493.9,1280.0 L494.6,1278.2 L495.5,1276.5 L496.5,1275.0 L497.4,1273.9 L498.3,1272.9 L499.2,1272.0 L500.2,1271.2 L501.2,1270.4 L502.3,1269.6 L503.4,1268.8 L504.5,1268.0 L505.9,1266.9 L507.3,1265.7 L508.8,1264.5 L510.4,1263.2 L512.0,1262.1 L513.5,1261.2 L515.0,1260.4 L516.5,1260.0 L517.6,1259.9 L518.7,1259.9 L519.8,1260.0 L520.8,1260.3 L521.9,1260.6 L522.9,1261.0 L524.0,1261.5 L525.0,1262.0 L526.2,1262.7 L527.3,1263.4 L528.5,1264.2 L529.6,1265.2 L530.7,1266.2 L531.8,1267.3 L532.9,1268.6 L534.0,1270.0 L535.9,1272.7 L537.8,1275.8 L539.7,1279.3 L541.7,1283.1 L543.6,1287.2 L545.4,1291.4 L547.3,1295.7 L549.0,1300.0 L551.0,1305.6 L552.9,1311.5 L554.7,1317.8 L556.5,1324.2 L558.2,1330.7 L560.0,1337.2 L561.9,1343.7 L564.0,1350.0 L566.2,1356.4 L568.4,1362.9 L570.7,1369.4 L573.1,1375.9 L575.6,1382.3 L578.2,1388.5 L581.0,1394.4 L584.0,1400.0 L586.8,1404.7 L589.6,1409.2 L592.6,1413.6 L595.7,1417.9 L598.9,1421.9 L602.2,1425.7 L605.6,1429.3 L609.0,1432.5 L611.9,1434.9 L615.0,1437.1 L618.1,1439.1 L621.2,1440.9 L624.4,1442.5 L627.6,1444.2 L630.8,1445.8 L634.0,1447.5 L637.0,1449.2 L640.0,1450.9 L643.0,1452.6 L646.0,1454.3 L649.0,1455.9 L652.2,1457.4 L655.5,1458.8 L659.0,1460.0 L663.5,1461.2 L668.3,1462.2 L673.3,1463.0 L678.5,1463.7 L683.8,1464.2 L689.2,1464.8 L694.6,1465.3 L700.0,1466.0 L706.0,1466.8 L712.2,1467.5 L718.4,1468.2 L724.7,1468.9 L731.0,1469.6 L737.4,1470.3 L743.7,1471.1 L750.0,1472.0 L756.4,1473.0 L763.0,1474.1 L769.7,1475.3 L776.3,1476.5 L782.7,1477.8 L788.9,1478.9 L794.7,1480.0 L800.0,1481.0 L803.2,1481.6 L806.1,1482.1 L808.9,1482.6 L811.6,1483.1 L814.1,1483.6 L816.7,1484.0 L819.3,1484.5 L822.0,1485.0 L825.0,1485.6 L828.5,1486.2 L832.1,1486.9 L835.6,1487.5 L838.8,1488.1 L841.4,1488.6 L843.2,1488.9 L843.8,1489.0 L843.9,1488.2 L844.2,1485.9 L844.7,1482.6 L845.2,1478.4 L845.8,1473.8 L846.4,1468.9 L847.0,1464.2 L847.5,1460.0 L848.0,1455.3 L848.5,1450.5 L848.9,1445.5 L849.4,1440.4 L849.8,1435.3 L850.3,1430.2 L850.6,1425.0 L851.0,1420.0 L851.3,1415.1 L851.6,1410.3 L851.9,1405.6 L852.1,1400.8 L852.3,1395.9 L852.6,1390.9 L852.8,1385.6 L853.0,1380.0 L853.3,1371.7 L853.6,1362.9 L853.8,1353.6 L854.1,1344.0 L854.3,1334.2 L854.6,1324.3 L854.8,1314.5 L855.0,1305.0 L855.2,1295.5 L855.4,1285.9 L855.6,1276.2 L855.7,1266.6 L855.9,1257.0 L856.1,1247.7 L856.3,1238.6 L856.5,1230.0 L856.7,1223.3 L857.0,1216.8 L857.2,1210.5 L857.5,1204.4 L857.8,1198.3 L858.1,1192.3 L858.3,1186.2 L858.5,1180.0 L858.7,1173.8 L858.8,1167.7 L858.9,1161.6 L859.0,1155.5 L859.1,1149.3 L859.2,1143.1 L859.4,1136.6 L859.5,1130.0 L859.7,1121.9 L859.9,1113.4 L860.0,1104.7 L860.2,1095.8 L860.4,1086.9 L860.7,1078.1 L861.0,1069.4 L861.3,1061.0 L861.6,1053.4 L862.0,1045.8 L862.4,1038.3 L862.8,1030.8 L863.2,1023.5 L863.7,1016.5 L864.2,1009.9 L864.7,1003.7 L865.1,999.6 L865.4,995.6 L865.8,991.7 L866.2,988.0 L866.6,984.5 L867.1,981.1 L867.5,978.0 L868.0,975.0 L868.3,973.0 L868.7,970.8 L869.1,968.7 L869.4,966.7 L869.8,964.9 L870.2,963.5 L870.6,962.5 L871.0,962.2 L871.5,962.7 L872.0,964.0 L872.6,966.0 L873.1,968.5 L873.7,971.4 L874.2,974.5 L874.7,977.6 L875.1,980.6 L875.7,985.6 L876.1,991.2 L876.5,997.2 L876.8,1003.6 L877.1,1010.2 L877.3,1016.9 L877.6,1023.5 L878.0,1030.0 L878.5,1036.6 L878.9,1043.2 L879.4,1049.9 L879.9,1056.6 L880.5,1063.3 L881.0,1070.2 L881.5,1077.2 L882.0,1084.3 L882.6,1092.5 L883.2,1100.9 L883.8,1109.5 L884.4,1118.2 L885.0,1126.9 L885.5,1135.8 L886.1,1144.6 L886.6,1153.5 L887.1,1163.0 L887.5,1172.7 L887.8,1182.6 L888.2,1192.5 L888.6,1202.3 L889.0,1211.9 L889.4,1221.2 L890.0,1230.0 L890.5,1236.8 L891.0,1243.3 L891.5,1249.7 L892.1,1255.9 L892.7,1262.0 L893.4,1268.0 L894.1,1274.0 L895.0,1280.0 L895.9,1285.7 L896.9,1291.5 L898.0,1297.2 L899.2,1302.9 L900.4,1308.4 L901.6,1313.8 L902.7,1318.9 L903.8,1323.8 L904.6,1327.3 L905.4,1330.6 L906.1,1333.7 L906.8,1336.8 L907.6,1339.8 L908.4,1342.7 L909.2,1345.7 L910.0,1348.8 L910.9,1352.0 L911.8,1355.2 L912.8,1358.4 L913.8,1361.6 L914.8,1364.7 L915.7,1367.8 L916.6,1370.9 L917.5,1373.8 L918.2,1376.2 L918.7,1378.6 L919.3,1381.0 L919.8,1383.3 L920.4,1385.6 L921.0,1387.8 L921.7,1390.0 L922.5,1392.0 L923.3,1393.8 L924.1,1395.5 L925.0,1397.2 L926.0,1398.8 L927.0,1400.4 L928.1,1401.9 L929.2,1403.3 L930.5,1404.5 L931.8,1405.6 L933.3,1406.6 L934.8,1407.5 L936.3,1408.3 L938.0,1409.1 L939.6,1409.7 L941.3,1410.3 L943.0,1410.8 L944.8,1411.3 L946.6,1411.7 L948.5,1412.0 L950.4,1412.2 L952.3,1412.4 L954.2,1412.4 L956.1,1412.3 L958.0,1412.0 L960.1,1411.6 L962.2,1411.0 L964.4,1410.4 L966.5,1409.5 L968.6,1408.5 L970.6,1407.4 L972.5,1406.0 L974.3,1404.5 L976.3,1402.2 L978.0,1399.3 L979.5,1396.1 L980.9,1392.6 L982.3,1389.1 L983.7,1385.6 L985.2,1382.4 L986.8,1379.5 L988.2,1377.3 L989.7,1375.2 L991.1,1373.1 L992.6,1371.1 L994.1,1369.2 L995.7,1367.5 L997.4,1365.9 L999.3,1364.5 L1001.3,1363.2 L1003.5,1362.1 L1005.8,1361.1 L1008.2,1360.2 L1010.7,1359.5 L1013.2,1358.9 L1015.6,1358.5 L1018.0,1358.3 L1020.3,1358.3 L1022.7,1358.5 L1025.0,1358.9 L1027.4,1359.5 L1029.7,1360.1 L1032.1,1360.8 L1034.5,1361.4 L1036.8,1362.0 L1039.1,1362.6 L1041.4,1363.1 L1043.6,1363.7 L1045.9,1364.3 L1048.2,1364.9 L1050.5,1365.6 L1053.0,1366.3 L1055.5,1367.0 L1059.0,1367.9 L1062.7,1368.7 L1066.6,1369.6 L1070.6,1370.5 L1074.6,1371.6 L1078.4,1372.7 L1081.9,1374.1 L1085.0,1375.8 L1087.2,1377.5 L1089.1,1379.5 L1090.7,1381.7 L1092.3,1383.9 L1093.9,1386.2 L1095.6,1388.4 L1097.6,1390.3 L1100.0,1392.0 L1104.0,1393.8 L1108.6,1395.1 L1113.7,1396.1 L1119.0,1396.9 L1124.6,1397.6 L1130.2,1398.3 L1135.7,1399.0 L1141.0,1400.0 L1146.2,1401.1 L1151.6,1402.3 L1157.1,1403.5 L1162.5,1404.7 L1167.8,1406.0 L1172.8,1407.3 L1177.6,1408.6 L1182.0,1410.0 L1184.8,1411.0 L1187.4,1412.1 L1189.7,1413.2 L1192.0,1414.3 L1194.3,1415.4 L1196.6,1416.5 L1199.2,1417.6 L1202.0,1418.6 L1206.3,1420.0 L1211.0,1421.3 L1215.9,1422.5 L1221.0,1423.7 L1226.4,1425.0 L1231.8,1426.2 L1237.4,1427.5 L1243.0,1428.8 L1250.0,1430.5 L1257.4,1432.3 L1265.0,1434.1 L1272.7,1435.9 L1280.5,1437.7 L1288.4,1439.5 L1296.3,1441.3 L1304.0,1443.0 L1311.7,1444.7 L1319.2,1446.3 L1326.8,1448.0 L1334.4,1449.6 L1342.1,1451.2 L1349.9,1452.7 L1357.8,1454.1 L1366.0,1455.4 L1375.6,1456.7 L1385.5,1457.9 L1395.6,1459.0 L1405.9,1460.0 L1416.2,1460.9 L1426.7,1461.8 L1437.1,1462.6 L1447.5,1463.5 L1458.3,1464.4 L1469.2,1465.2 L1480.3,1466.0 L1491.3,1466.8 L1502.3,1467.6 L1513.1,1468.3 L1523.7,1469.0 L1534.0,1469.7 L1542.6,1470.3 L1551.0,1470.8 L1559.1,1471.4 L1567.2,1471.9 L1575.2,1472.4 L1583.3,1472.9 L1591.5,1473.5 L1600.0,1474.0 L1609.5,1474.6 L1619.1,1475.3 L1628.8,1475.9 L1638.7,1476.6 L1648.6,1477.2 L1658.8,1477.8 L1669.3,1478.4 L1680.0,1479.0 L1693.2,1479.6 L1707.0,1480.2 L1721.1,1480.8 L1735.5,1481.4 L1750.0,1481.9 L1764.5,1482.3 L1778.9,1482.7 L1793.0,1483.0 L1806.6,1483.2 L1820.4,1483.4 L1834.3,1483.5 L1848.0,1483.5 L1861.5,1483.5 L1874.6,1483.4 L1887.2,1483.2 L1899.0,1483.0 L1907.4,1482.8 L1915.3,1482.5 L1922.9,1482.1 L1930.3,1481.7 L1937.5,1481.3 L1944.8,1480.9 L1952.3,1480.4 L1960.0,1480.0 L1969.5,1479.5 L1980.6,1478.8 L1992.3,1478.1 L2003.8,1477.4 L2014.2,1476.8 L2022.8,1476.3 L2028.5,1475.9 L2030.6,1475.8" stroke="#5DCA9B"/>
<path d="M448.0,1368.0 L448.2,1368.1 L448.8,1368.4 L449.6,1368.7 L450.6,1369.2 L451.7,1369.7 L452.9,1370.2 L454.0,1370.6 L455.0,1371.0 L456.0,1371.4 L457.0,1371.8 L458.0,1372.3 L459.0,1372.7 L460.0,1373.0 L460.9,1373.2 L461.8,1373.2 L462.6,1373.0 L463.5,1372.2 L464.2,1371.0 L464.8,1369.5 L465.3,1367.7 L465.7,1365.7 L466.1,1363.8 L466.5,1361.8 L467.0,1360.0 L467.5,1358.2 L467.9,1356.3 L468.3,1354.4 L468.7,1352.4 L469.1,1350.5 L469.6,1348.6 L470.0,1346.6 L470.6,1344.7 L471.3,1342.7 L472.0,1340.8 L472.8,1338.9 L473.6,1337.0 L474.4,1335.0 L475.3,1333.0 L476.2,1330.8 L477.0,1328.5 L478.2,1325.0 L479.3,1321.1 L480.5,1316.9 L481.7,1312.6 L482.9,1308.3 L484.2,1304.0 L485.5,1300.0 L486.8,1296.3 L487.9,1293.5 L489.1,1290.9 L490.3,1288.4 L491.5,1286.0 L492.7,1283.6 L494.0,1281.2 L495.2,1278.7 L496.5,1276.0 L498.0,1272.6 L499.5,1268.9 L500.9,1265.0 L502.4,1261.1 L504.0,1257.2 L505.6,1253.6 L507.2,1250.3 L509.0,1247.5 L510.3,1245.8 L511.6,1244.2 L512.9,1242.8 L514.3,1241.4 L515.6,1240.2 L517.1,1239.1 L518.5,1238.0 L520.0,1237.0 L521.4,1236.1 L522.8,1235.3 L524.3,1234.6 L525.8,1234.0 L527.3,1233.4 L528.8,1232.9 L530.4,1232.4 L532.0,1232.0 L533.8,1231.6 L535.6,1231.2 L537.5,1230.8 L539.4,1230.5 L541.3,1230.3 L543.1,1230.3 L544.9,1230.5 L546.5,1231.0 L548.0,1231.7 L549.4,1232.7 L550.8,1233.9 L552.0,1235.3 L553.3,1236.8 L554.5,1238.5 L555.7,1240.2 L557.0,1242.0 L558.8,1244.8 L560.7,1247.8 L562.5,1251.1 L564.3,1254.6 L566.1,1258.3 L567.9,1262.1 L569.7,1266.0 L571.5,1270.0 L573.7,1275.1 L575.9,1280.6 L578.1,1286.3 L580.3,1292.2 L582.5,1298.1 L584.7,1303.9 L586.8,1309.6 L589.0,1315.0 L590.9,1319.6 L592.8,1324.0 L594.8,1328.4 L596.7,1332.7 L598.6,1336.9 L600.5,1341.2 L602.3,1345.6 L604.0,1350.0 L605.7,1354.7 L607.3,1359.4 L608.9,1364.3 L610.5,1369.1 L612.0,1373.9 L613.5,1378.6 L615.0,1383.2 L616.5,1387.5 L617.7,1390.9 L618.9,1394.2 L620.1,1397.5 L621.2,1400.6 L622.4,1403.7 L623.7,1406.7 L625.0,1409.6 L626.5,1412.5 L627.9,1415.2 L629.4,1417.9 L630.9,1420.5 L632.5,1423.1 L634.2,1425.6 L636.0,1427.9 L637.9,1430.1 L640.0,1432.0 L642.2,1433.7 L644.6,1435.2 L647.1,1436.6 L649.7,1437.8 L652.3,1438.9 L655.0,1439.8 L657.6,1440.5 L660.0,1441.0 L661.9,1441.3 L663.9,1441.4 L665.8,1441.4 L667.6,1441.2 L669.5,1441.0 L671.3,1440.7 L673.2,1440.4 L675.0,1440.0 L676.8,1439.6 L678.5,1439.3 L680.2,1438.9 L681.9,1438.4 L683.6,1437.8 L685.4,1437.1 L687.2,1436.2 L689.0,1435.0 L692.5,1432.3 L696.1,1428.8 L699.9,1424.6 L703.8,1420.0 L707.8,1415.1 L711.6,1410.0 L715.4,1404.9 L719.0,1400.0 L722.7,1394.7 L726.4,1389.1 L730.0,1383.3 L733.6,1377.4 L737.0,1371.5 L740.3,1365.8 L743.5,1360.2 L746.5,1355.0 L748.8,1351.0 L750.9,1347.1 L753.0,1343.3 L754.9,1339.6 L756.9,1336.0 L758.7,1332.5 L760.6,1329.2 L762.5,1326.0 L764.0,1323.7 L765.4,1321.5 L766.9,1319.5 L768.3,1317.5 L769.7,1315.5 L771.1,1313.5 L772.5,1311.3 L773.8,1309.0 L775.3,1306.0 L776.7,1302.7 L778.1,1299.3 L779.4,1295.8 L780.8,1292.3 L782.1,1288.9 L783.5,1285.6 L785.0,1282.5 L786.4,1280.0 L787.8,1277.5 L789.3,1275.2 L790.8,1272.8 L792.2,1270.6 L793.7,1268.3 L795.0,1266.1 L796.3,1263.8 L797.3,1261.7 L798.2,1259.6 L799.0,1257.5 L799.8,1255.5 L800.7,1253.4 L801.6,1251.4 L802.6,1249.4 L803.8,1247.5 L805.4,1245.4 L807.1,1243.4 L809.0,1241.3 L811.0,1239.3 L813.0,1237.4 L815.1,1235.6 L817.0,1233.9 L818.8,1232.5 L820.0,1231.5 L821.2,1230.5 L822.3,1229.6 L823.4,1228.7 L824.5,1228.0 L825.7,1227.4 L826.8,1227.1 L828.0,1227.0 L829.5,1227.3 L831.0,1227.9 L832.6,1228.8 L834.2,1230.0 L835.7,1231.3 L837.2,1232.8 L838.7,1234.4 L840.0,1236.0 L841.5,1238.2 L842.9,1240.7 L844.2,1243.4 L845.4,1246.2 L846.6,1249.2 L847.7,1252.2 L848.8,1255.2 L850.0,1258.0 L851.1,1260.7 L852.3,1263.5 L853.4,1266.2 L854.4,1268.9 L855.5,1271.6 L856.6,1274.4 L857.7,1277.2 L858.8,1280.0 L860.1,1283.0 L861.4,1286.1 L862.7,1289.1 L864.1,1292.2 L865.4,1295.3 L866.6,1298.5 L867.8,1301.7 L868.8,1305.0 L869.7,1308.6 L870.4,1312.2 L870.9,1316.0 L871.4,1319.7 L871.9,1323.6 L872.5,1327.4 L873.1,1331.2 L874.0,1335.0 L875.1,1339.1 L876.3,1343.5 L877.7,1347.8 L879.1,1352.2 L880.6,1356.5 L882.1,1360.5 L883.6,1364.2 L885.0,1367.5 L885.9,1369.4 L886.9,1371.1 L887.8,1372.6 L888.8,1374.1 L889.7,1375.5 L890.7,1376.9 L891.6,1378.4 L892.5,1380.0 L893.5,1382.0 L894.4,1384.3 L895.3,1386.7 L896.2,1389.1 L897.1,1391.2 L898.0,1393.1 L899.0,1394.4 L900.0,1395.0 L900.7,1395.0 L901.5,1394.8 L902.3,1394.4 L903.1,1393.8 L903.9,1393.0 L904.6,1392.1 L905.3,1391.1 L906.0,1390.0 L907.4,1386.3 L908.5,1381.2 L909.3,1375.1 L910.0,1368.3 L910.5,1361.0 L911.0,1353.7 L911.5,1346.6 L912.0,1340.0 L912.5,1333.9 L913.0,1327.8 L913.4,1321.7 L913.8,1315.6 L914.2,1309.6 L914.6,1303.7 L915.0,1298.0 L915.5,1292.5 L915.9,1288.1 L916.3,1283.9 L916.7,1279.8 L917.2,1275.8 L917.6,1271.8 L918.1,1267.9 L918.5,1264.0 L919.0,1260.0 L919.5,1256.2 L920.0,1252.4 L920.5,1248.7 L921.1,1244.9 L921.6,1241.2 L922.1,1237.5 L922.6,1233.7 L923.0,1230.0 L923.3,1226.2 L923.6,1222.5 L923.9,1218.7 L924.1,1214.9 L924.3,1211.2 L924.5,1207.4 L924.7,1203.7 L925.0,1200.0 L925.3,1196.5 L925.6,1192.9 L925.9,1189.4 L926.2,1186.0 L926.6,1182.5 L926.9,1179.0 L927.2,1175.5 L927.5,1172.0 L927.7,1168.2 L927.9,1164.0 L928.0,1159.7 L928.1,1155.4 L928.3,1151.4 L928.5,1147.8 L928.9,1145.0 L929.5,1143.0 L929.7,1142.6 L930.0,1142.1 L930.2,1141.8 L930.5,1141.5 L930.8,1141.2 L931.0,1141.1 L931.3,1141.0 L931.5,1141.0 L931.9,1141.3 L932.2,1142.0 L932.6,1143.1 L932.9,1144.3 L933.1,1145.7 L933.4,1147.2 L933.7,1148.6 L934.0,1150.0 L934.4,1151.8 L934.8,1153.6 L935.1,1155.5 L935.5,1157.5 L935.9,1159.6 L936.2,1161.7 L936.6,1163.8 L937.0,1166.0 L937.5,1168.8 L938.0,1171.6 L938.4,1174.6 L938.9,1177.6 L939.4,1180.7 L939.9,1183.8 L940.5,1186.9 L941.0,1190.0 L941.6,1193.4 L942.1,1197.1 L942.6,1201.0 L943.2,1204.8 L943.8,1208.4 L944.4,1211.6 L945.2,1214.2 L946.0,1216.0 L946.4,1216.5 L946.7,1216.9 L947.1,1217.3 L947.5,1217.6 L947.9,1217.9 L948.3,1218.0 L948.7,1218.1 L949.0,1218.0 L949.6,1217.3 L950.0,1216.0 L950.4,1214.2 L950.8,1212.0 L951.0,1209.7 L951.3,1207.3 L951.6,1205.0 L952.0,1203.0 L952.3,1201.2 L952.6,1199.3 L952.9,1197.3 L953.2,1195.3 L953.5,1193.5 L953.9,1192.0 L954.4,1190.8 L955.0,1190.0 L955.3,1189.8 L955.7,1189.6 L956.1,1189.6 L956.4,1189.6 L956.8,1189.6 L957.2,1189.7 L957.6,1189.8 L958.0,1190.0 L958.6,1190.4 L959.2,1191.1 L959.9,1191.9 L960.5,1192.9 L961.1,1193.9 L961.7,1195.0 L962.4,1196.0 L963.0,1197.0 L963.7,1198.1 L964.4,1199.1 L965.2,1200.2 L965.9,1201.3 L966.6,1202.5 L967.4,1203.6 L968.2,1204.8 L969.0,1206.0 L970.0,1207.6 L971.1,1209.2 L972.3,1211.0 L973.4,1212.7 L974.6,1214.4 L975.7,1216.1 L976.9,1217.6 L978.0,1219.0 L978.8,1219.9 L979.6,1220.6 L980.4,1221.2 L981.1,1221.8 L981.9,1222.5 L982.7,1223.2 L983.5,1224.0 L984.3,1225.0 L985.8,1227.2 L987.5,1229.7 L989.1,1232.6 L990.8,1235.7 L992.5,1239.1 L994.1,1242.6 L995.6,1246.3 L997.0,1250.0 L998.6,1255.4 L999.9,1261.3 L1001.1,1267.5 L1002.1,1274.0 L1003.1,1280.6 L1004.1,1287.3 L1005.2,1293.8 L1006.5,1300.0 L1007.7,1305.9 L1008.9,1311.9 L1010.1,1318.0 L1011.3,1323.9 L1012.6,1329.7 L1014.1,1335.2 L1015.9,1340.4 L1018.0,1345.0 L1019.8,1348.2 L1021.8,1351.2 L1024.0,1353.9 L1026.2,1356.4 L1028.6,1358.9 L1031.0,1361.2 L1033.5,1363.6 L1036.0,1366.0 L1038.7,1368.5 L1041.6,1370.9 L1044.5,1373.2 L1047.5,1375.5 L1050.6,1377.8 L1053.7,1380.1 L1056.8,1382.5 L1060.0,1385.0 L1063.6,1388.0 L1067.2,1391.1 L1070.9,1394.4 L1074.7,1397.6 L1078.5,1400.9 L1082.3,1404.1 L1086.1,1407.1 L1090.0,1410.0 L1093.7,1412.6 L1097.3,1415.2 L1101.0,1417.7 L1104.7,1420.1 L1108.5,1422.4 L1112.3,1424.5 L1116.1,1426.4 L1120.0,1428.0 L1123.7,1429.3 L1127.4,1430.3 L1131.1,1431.2 L1134.9,1431.8 L1138.7,1432.4 L1142.7,1432.9 L1146.8,1433.4 L1151.0,1434.0 L1156.5,1434.7 L1162.0,1435.3 L1167.8,1435.8 L1173.7,1436.2 L1179.9,1436.6 L1186.3,1437.0 L1193.0,1437.5 L1200.0,1438.0 L1211.0,1438.8 L1223.0,1439.6 L1235.8,1440.5 L1249.1,1441.4 L1262.5,1442.3 L1275.6,1443.2 L1288.3,1444.1 L1300.0,1445.0 L1308.7,1445.7 L1316.9,1446.4 L1324.6,1447.1 L1332.3,1447.9 L1340.0,1448.6 L1348.0,1449.4 L1356.6,1450.2 L1366.0,1451.0 L1381.5,1452.4 L1398.7,1453.9 L1417.0,1455.6 L1436.1,1457.3 L1455.3,1459.0 L1474.2,1460.6 L1492.3,1462.1 L1509.0,1463.5 L1521.3,1464.5 L1533.1,1465.4 L1544.4,1466.3 L1555.5,1467.1 L1566.5,1467.9 L1577.4,1468.6 L1588.6,1469.3 L1600.0,1470.0 L1612.0,1470.7 L1623.9,1471.3 L1635.6,1471.8 L1647.6,1472.3 L1659.8,1472.8 L1672.5,1473.2 L1685.8,1473.6 L1700.0,1474.0 L1722.0,1474.5 L1746.1,1475.1 L1771.8,1475.5 L1798.3,1475.9 L1825.0,1476.2 L1851.1,1476.4 L1876.0,1476.3 L1899.0,1476.0 L1917.2,1475.5 L1937.0,1474.7 L1957.2,1473.7 L1976.5,1472.7 L1993.7,1471.7 L2007.5,1470.8 L2016.7,1470.2 L2020.0,1470.0" stroke="#EC4A98" stroke-dasharray="31 32" stroke-dashoffset="0.0"/>
<path d="M449.0,1312.0 L449.2,1312.2 L449.6,1312.6 L450.3,1313.1 L451.2,1313.8 L452.2,1314.5 L453.2,1315.2 L454.1,1315.7 L455.0,1316.0 L455.7,1316.1 L456.5,1316.2 L457.2,1316.1 L458.0,1316.0 L458.8,1315.9 L459.5,1315.6 L460.3,1315.3 L461.0,1315.0 L461.9,1314.5 L462.9,1313.8 L463.8,1313.0 L464.7,1312.1 L465.6,1311.2 L466.4,1310.2 L467.3,1309.1 L468.0,1308.0 L468.8,1306.6 L469.5,1305.1 L470.1,1303.5 L470.7,1301.8 L471.3,1300.1 L471.8,1298.3 L472.4,1296.6 L473.0,1295.0 L473.6,1293.5 L474.2,1292.0 L474.8,1290.5 L475.5,1289.1 L476.1,1287.6 L476.7,1286.1 L477.4,1284.6 L478.0,1283.0 L478.7,1281.2 L479.4,1279.3 L480.2,1277.4 L480.9,1275.4 L481.7,1273.5 L482.4,1271.6 L483.2,1269.8 L484.0,1268.0 L484.7,1266.5 L485.4,1265.0 L486.1,1263.6 L486.8,1262.1 L487.5,1260.8 L488.3,1259.5 L489.1,1258.2 L490.0,1257.0 L490.9,1256.0 L491.8,1254.9 L492.8,1254.0 L493.8,1253.0 L494.8,1252.2 L495.9,1251.4 L496.9,1250.6 L498.0,1250.0 L499.0,1249.5 L499.9,1249.0 L500.9,1248.6 L501.9,1248.2 L503.0,1247.9 L504.0,1247.7 L505.0,1247.5 L506.0,1247.5 L507.0,1247.5 L508.0,1247.7 L509.1,1247.9 L510.1,1248.2 L511.1,1248.6 L512.1,1249.0 L513.1,1249.5 L514.0,1250.0 L515.0,1250.7 L515.9,1251.4 L516.8,1252.2 L517.6,1253.1 L518.5,1254.1 L519.3,1255.1 L520.2,1256.0 L521.0,1257.0 L521.9,1258.0 L522.8,1259.1 L523.7,1260.3 L524.6,1261.4 L525.5,1262.5 L526.3,1263.7 L527.2,1264.9 L528.0,1266.0 L528.8,1267.1 L529.6,1268.1 L530.4,1269.2 L531.1,1270.3 L531.9,1271.3 L532.6,1272.5 L533.3,1273.7 L534.0,1275.0 L534.8,1276.8 L535.6,1278.8 L536.4,1280.9 L537.1,1283.0 L537.9,1285.2 L538.6,1287.5 L539.3,1289.8 L540.0,1292.0 L540.8,1294.4 L541.5,1296.8 L542.3,1299.3 L543.1,1301.7 L543.8,1304.2 L544.6,1306.8 L545.3,1309.4 L546.0,1312.0 L546.8,1315.0 L547.5,1318.0 L548.3,1321.2 L549.0,1324.3 L549.7,1327.5 L550.4,1330.7 L551.2,1333.9 L552.0,1337.0 L552.8,1340.1 L553.7,1343.3 L554.5,1346.4 L555.4,1349.6 L556.3,1352.7 L557.2,1355.8 L558.1,1358.9 L559.0,1362.0 L559.9,1364.9 L560.7,1367.9 L561.5,1370.8 L562.4,1373.7 L563.3,1376.6 L564.1,1379.4 L565.1,1382.2 L566.0,1385.0 L566.9,1387.6 L567.8,1390.2 L568.8,1392.8 L569.7,1395.3 L570.7,1397.8 L571.8,1400.3 L572.9,1402.7 L574.0,1405.0 L575.1,1407.2 L576.3,1409.3 L577.5,1411.4 L578.8,1413.4 L580.0,1415.4 L581.3,1417.3 L582.7,1419.2 L584.0,1421.0 L585.2,1422.6 L586.3,1424.1 L587.5,1425.6 L588.7,1427.0 L589.9,1428.4 L591.2,1429.7 L592.6,1430.9 L594.0,1432.0 L595.6,1433.0 L597.2,1433.9 L599.0,1434.7 L600.8,1435.4 L602.6,1436.1 L604.4,1436.7 L606.2,1437.3 L608.0,1438.0 L609.6,1438.6 L611.1,1439.2 L612.7,1439.8 L614.2,1440.3 L615.7,1440.9 L617.4,1441.4 L619.1,1441.9 L621.0,1442.5 L624.0,1443.3 L627.2,1444.1 L630.7,1445.0 L634.3,1445.8 L638.0,1446.6 L641.9,1447.4 L645.9,1448.2 L650.0,1449.0 L655.6,1450.0 L661.5,1451.1 L667.7,1452.1 L674.1,1453.2 L680.6,1454.2 L687.2,1455.2 L693.6,1456.1 L700.0,1457.0 L706.2,1457.8 L712.5,1458.6 L718.7,1459.3 L725.0,1460.0 L731.3,1460.7 L737.5,1461.4 L743.8,1462.2 L750.0,1463.0 L756.4,1463.9 L763.0,1465.0 L769.7,1466.1 L776.4,1467.2 L782.9,1468.3 L789.1,1469.3 L794.8,1470.2 L800.0,1471.0 L802.9,1471.4 L805.6,1471.8 L808.2,1472.1 L810.6,1472.4 L812.9,1472.7 L815.3,1473.0 L817.6,1473.2 L820.0,1473.5 L822.6,1473.8 L825.6,1474.1 L828.7,1474.5 L831.7,1474.8 L834.5,1475.1 L836.7,1475.3 L838.2,1475.4 L838.7,1475.5 L838.7,1474.8 L838.8,1472.9 L838.9,1470.0 L839.0,1466.5 L839.1,1462.4 L839.2,1458.2 L839.4,1453.9 L839.5,1450.0 L839.7,1444.6 L839.8,1438.9 L840.0,1432.8 L840.2,1426.6 L840.4,1420.1 L840.6,1413.5 L840.8,1406.8 L841.0,1400.0 L841.3,1391.8 L841.6,1383.4 L842.0,1374.7 L842.4,1365.9 L842.7,1356.9 L843.1,1347.9 L843.5,1338.9 L843.8,1330.0 L844.1,1320.7 L844.5,1311.4 L844.8,1302.1 L845.1,1292.7 L845.4,1283.2 L845.7,1273.8 L846.0,1264.4 L846.3,1255.0 L846.6,1245.6 L846.9,1236.3 L847.3,1227.0 L847.6,1217.7 L847.9,1208.3 L848.2,1198.9 L848.5,1189.5 L848.8,1180.0 L849.1,1170.1 L849.4,1160.1 L849.7,1150.0 L849.9,1139.8 L850.2,1129.7 L850.5,1119.7 L850.7,1109.8 L851.0,1100.0 L851.2,1090.9 L851.5,1081.9 L851.7,1072.9 L851.9,1064.0 L852.2,1055.2 L852.4,1046.6 L852.7,1038.2 L853.0,1030.0 L853.3,1023.2 L853.5,1016.5 L853.8,1009.9 L854.1,1003.4 L854.4,997.1 L854.8,991.1 L855.1,985.4 L855.5,980.0 L855.8,976.4 L856.0,972.8 L856.3,969.3 L856.6,965.9 L856.9,962.8 L857.2,959.9 L857.6,957.3 L858.0,955.0 L858.2,953.9 L858.5,952.7 L858.7,951.6 L858.9,950.6 L859.2,949.7 L859.5,949.0 L859.7,948.6 L860.0,948.4 L860.2,948.5 L860.5,948.8 L860.7,949.3 L861.0,949.9 L861.3,950.6 L861.5,951.4 L861.8,952.2 L862.0,953.0 L862.4,954.4 L862.8,956.0 L863.1,957.8 L863.5,959.7 L863.8,961.7 L864.1,964.0 L864.4,966.4 L864.7,969.0 L865.3,975.3 L865.8,982.9 L866.2,991.5 L866.6,1000.7 L867.0,1010.3 L867.4,1019.9 L867.8,1029.2 L868.2,1038.0 L868.6,1046.1 L869.1,1054.3 L869.6,1062.5 L870.0,1070.6 L870.5,1078.5 L871.0,1086.1 L871.5,1093.3 L872.0,1100.0 L872.4,1104.2 L872.8,1108.1 L873.2,1111.7 L873.6,1115.2 L874.0,1118.7 L874.4,1122.2 L874.8,1126.0 L875.1,1130.0 L875.5,1135.7 L875.8,1141.8 L876.1,1148.1 L876.4,1154.7 L876.6,1161.2 L876.9,1167.7 L877.2,1174.0 L877.5,1180.0 L877.8,1184.9 L878.1,1189.6 L878.3,1194.2 L878.6,1198.8 L878.9,1203.3 L879.2,1207.9 L879.6,1212.6 L880.0,1217.5 L880.5,1223.5 L881.0,1229.7 L881.5,1236.1 L882.1,1242.5 L882.7,1249.0 L883.4,1255.4 L884.2,1261.6 L885.0,1267.5 L885.8,1272.5 L886.7,1277.3 L887.7,1282.0 L888.6,1286.6 L889.6,1291.2 L890.6,1295.8 L891.6,1300.3 L892.5,1305.0 L893.3,1309.7 L894.1,1314.6 L894.8,1319.4 L895.5,1324.2 L896.3,1329.0 L897.0,1333.7 L897.9,1338.2 L898.8,1342.5 L899.6,1345.9 L900.5,1349.2 L901.4,1352.5 L902.3,1355.6 L903.3,1358.7 L904.3,1361.7 L905.3,1364.6 L906.3,1367.5 L907.2,1370.0 L908.1,1372.6 L908.9,1375.1 L909.8,1377.5 L910.8,1379.9 L911.7,1382.1 L912.7,1384.2 L913.8,1386.0 L914.6,1387.2 L915.3,1388.2 L916.1,1389.2 L916.9,1390.2 L917.7,1391.0 L918.6,1391.8 L919.5,1392.6 L920.5,1393.3 L921.6,1394.0 L922.7,1394.6 L923.9,1395.1 L925.2,1395.6 L926.4,1396.1 L927.7,1396.4 L928.9,1396.8 L930.0,1397.0 L930.9,1397.1 L931.7,1397.2 L932.6,1397.2 L933.4,1397.2 L934.2,1397.2 L935.1,1397.1 L935.9,1397.1 L936.8,1397.0 L937.8,1396.9 L938.8,1396.8 L939.8,1396.7 L940.8,1396.6 L941.8,1396.4 L942.9,1396.3 L943.9,1396.1 L945.0,1396.0 L946.3,1395.9 L947.5,1395.8 L948.9,1395.7 L950.2,1395.6 L951.5,1395.5 L952.9,1395.3 L954.2,1395.0 L955.5,1394.5 L957.1,1393.7 L958.7,1392.8 L960.3,1391.7 L961.9,1390.4 L963.5,1389.1 L965.0,1387.6 L966.5,1386.1 L968.0,1384.5 L969.7,1382.4 L971.3,1380.0 L972.8,1377.5 L974.4,1374.8 L975.8,1372.1 L977.4,1369.4 L978.9,1366.9 L980.5,1364.5 L982.0,1362.4 L983.5,1360.3 L985.0,1358.1 L986.5,1356.1 L988.0,1354.1 L989.6,1352.4 L991.3,1350.8 L993.0,1349.5 L994.5,1348.6 L996.0,1347.9 L997.5,1347.3 L999.1,1346.8 L1000.7,1346.4 L1002.3,1346.1 L1003.9,1345.9 L1005.5,1345.8 L1007.0,1345.8 L1008.6,1346.0 L1010.1,1346.2 L1011.6,1346.6 L1013.1,1347.0 L1014.7,1347.4 L1016.3,1347.9 L1018.0,1348.3 L1020.2,1348.8 L1022.4,1349.4 L1024.8,1350.1 L1027.2,1350.7 L1029.6,1351.4 L1032.0,1352.1 L1034.4,1352.7 L1036.8,1353.3 L1039.2,1353.8 L1041.6,1354.3 L1044.0,1354.7 L1046.4,1355.1 L1048.8,1355.5 L1051.1,1355.9 L1053.4,1356.4 L1055.5,1357.0 L1057.2,1357.5 L1058.8,1358.0 L1060.3,1358.6 L1061.9,1359.2 L1063.4,1359.8 L1064.9,1360.5 L1066.4,1361.2 L1068.0,1362.0 L1070.0,1363.1 L1072.2,1364.3 L1074.3,1365.6 L1076.5,1367.0 L1078.7,1368.5 L1080.8,1370.0 L1083.0,1371.5 L1085.0,1373.0 L1086.9,1374.6 L1088.6,1376.3 L1090.3,1378.1 L1091.9,1379.9 L1093.6,1381.7 L1095.5,1383.3 L1097.6,1384.7 L1100.0,1385.9 L1104.1,1387.0 L1108.8,1387.5 L1114.0,1387.6 L1119.4,1387.5 L1125.1,1387.3 L1130.6,1387.2 L1136.0,1387.3 L1140.9,1387.9 L1145.0,1388.8 L1148.9,1389.8 L1152.8,1391.0 L1156.6,1392.3 L1160.3,1393.7 L1164.0,1395.2 L1167.7,1396.6 L1171.5,1398.0 L1175.3,1399.4 L1179.0,1400.9 L1182.7,1402.4 L1186.5,1403.9 L1190.2,1405.5 L1194.0,1407.0 L1198.0,1408.5 L1202.0,1410.0 L1206.8,1411.6 L1211.6,1413.3 L1216.5,1414.9 L1221.6,1416.5 L1226.7,1418.0 L1232.0,1419.6 L1237.4,1421.2 L1243.0,1422.7 L1250.0,1424.6 L1257.3,1426.5 L1264.9,1428.4 L1272.6,1430.3 L1280.5,1432.1 L1288.4,1433.9 L1296.2,1435.5 L1304.0,1437.0 L1311.6,1438.3 L1319.2,1439.5 L1326.8,1440.5 L1334.4,1441.5 L1342.1,1442.3 L1349.9,1443.2 L1357.8,1444.1 L1366.0,1445.0 L1375.6,1446.1 L1385.4,1447.1 L1395.4,1448.1 L1405.6,1449.1 L1415.9,1450.0 L1426.3,1451.0 L1436.7,1452.0 L1447.0,1453.0 L1457.8,1454.1 L1468.8,1455.3 L1479.9,1456.4 L1491.0,1457.6 L1502.1,1458.7 L1513.0,1459.8 L1523.7,1460.7 L1534.0,1461.5 L1542.6,1462.0 L1550.8,1462.4 L1558.8,1462.7 L1566.7,1463.0 L1574.6,1463.2 L1582.7,1463.4 L1591.2,1463.7 L1600.0,1464.0 L1611.5,1464.5 L1623.5,1465.0 L1635.9,1465.6 L1648.5,1466.1 L1661.4,1466.7 L1674.3,1467.2 L1687.2,1467.6 L1700.0,1468.0 L1713.1,1468.3 L1726.4,1468.5 L1739.8,1468.7 L1753.2,1468.9 L1766.6,1469.0 L1779.9,1469.1 L1793.0,1469.1 L1806.0,1469.0 L1818.0,1468.9 L1829.7,1468.7 L1841.3,1468.5 L1852.9,1468.2 L1864.5,1467.9 L1876.1,1467.6 L1887.9,1467.3 L1900.0,1467.0 L1913.9,1466.7 L1929.0,1466.5 L1944.5,1466.2 L1960.0,1465.9 L1974.9,1465.6 L1988.5,1465.3 L2000.4,1465.0 L2010.0,1464.6 L2013.5,1464.4 L2017.1,1464.1 L2020.4,1463.9 L2023.5,1463.6 L2026.1,1463.4 L2028.2,1463.2 L2029.5,1463.0 L2030.0,1463.0" stroke="#F4C81C"/>
<path d="M456.0,1321.0 L456.2,1321.2 L456.7,1321.7 L457.4,1322.4 L458.2,1323.3 L459.2,1324.2 L460.2,1325.2 L461.2,1326.2 L462.0,1327.0 L462.8,1327.8 L463.5,1328.7 L464.3,1329.6 L465.1,1330.5 L465.9,1331.4 L466.6,1332.0 L467.4,1332.4 L468.2,1332.6 L469.0,1332.4 L469.9,1331.9 L470.7,1331.1 L471.6,1330.2 L472.4,1329.2 L473.3,1328.1 L474.1,1327.0 L475.0,1326.0 L476.0,1324.9 L476.9,1323.9 L477.9,1322.7 L478.9,1321.6 L479.9,1320.4 L480.8,1319.2 L481.8,1317.9 L482.7,1316.5 L483.8,1314.7 L484.7,1312.6 L485.7,1310.4 L486.6,1308.1 L487.5,1305.9 L488.5,1303.8 L489.6,1301.9 L490.8,1300.3 L491.8,1299.2 L492.9,1298.2 L494.0,1297.3 L495.1,1296.5 L496.3,1295.8 L497.5,1295.1 L498.7,1294.5 L500.0,1294.0 L501.4,1293.5 L503.0,1293.0 L504.6,1292.6 L506.2,1292.3 L507.8,1292.1 L509.5,1292.0 L511.1,1292.1 L512.6,1292.3 L514.2,1292.8 L515.7,1293.4 L517.3,1294.2 L518.8,1295.1 L520.3,1296.2 L521.8,1297.5 L523.2,1298.8 L524.7,1300.3 L526.9,1302.9 L529.1,1306.1 L531.2,1309.6 L533.3,1313.4 L535.4,1317.4 L537.3,1321.3 L539.1,1325.0 L540.8,1328.5 L542.0,1331.1 L543.1,1333.6 L544.0,1336.1 L544.9,1338.5 L545.8,1340.9 L546.7,1343.4 L547.8,1346.0 L548.9,1348.7 L550.5,1352.3 L552.2,1356.1 L554.0,1360.0 L555.8,1364.1 L557.8,1368.1 L559.8,1372.2 L561.9,1376.1 L564.0,1380.0 L566.2,1383.9 L568.5,1387.9 L570.8,1391.9 L573.2,1395.8 L575.7,1399.7 L578.4,1403.3 L581.1,1406.8 L584.0,1410.0 L586.8,1412.7 L589.8,1415.3 L592.8,1417.7 L596.0,1419.9 L599.2,1422.0 L602.5,1424.0 L605.7,1425.8 L609.0,1427.5 L612.0,1428.9 L615.0,1430.2 L618.0,1431.4 L621.0,1432.5 L624.1,1433.4 L627.3,1434.3 L630.6,1435.2 L634.0,1436.0 L638.3,1436.9 L642.8,1437.6 L647.5,1438.2 L652.2,1438.8 L657.1,1439.3 L661.9,1439.8 L666.8,1440.3 L671.5,1441.0 L676.2,1441.7 L680.8,1442.5 L685.3,1443.4 L689.9,1444.2 L694.5,1445.1 L699.2,1445.9 L704.0,1446.7 L709.0,1447.5 L714.9,1448.4 L721.0,1449.2 L727.2,1450.0 L733.5,1450.8 L739.9,1451.6 L746.3,1452.4 L752.7,1453.2 L759.0,1454.0 L765.4,1454.8 L772.0,1455.7 L778.7,1456.5 L785.3,1457.4 L791.8,1458.2 L798.0,1458.9 L803.8,1459.5 L809.0,1460.0 L812.1,1460.2 L815.0,1460.4 L817.7,1460.5 L820.4,1460.6 L822.9,1460.7 L825.3,1460.8 L827.7,1460.9 L830.0,1461.0 L831.8,1461.2 L833.6,1461.5 L835.4,1461.8 L837.1,1462.1 L838.7,1462.4 L840.3,1462.5 L841.7,1462.4 L843.0,1462.0 L844.0,1461.5 L844.9,1460.8 L845.7,1460.1 L846.4,1459.2 L847.1,1458.2 L847.8,1457.2 L848.4,1456.1 L849.0,1455.0 L849.7,1453.5 L850.3,1451.9 L850.9,1450.2 L851.4,1448.4 L851.8,1446.5 L852.2,1444.4 L852.6,1442.3 L853.0,1440.0 L853.5,1436.0 L854.0,1431.5 L854.3,1426.6 L854.6,1421.5 L854.8,1416.2 L855.0,1410.8 L855.2,1405.3 L855.5,1400.0 L855.8,1394.0 L856.1,1387.9 L856.4,1381.7 L856.7,1375.3 L857.0,1369.0 L857.3,1362.6 L857.7,1356.3 L858.0,1350.0 L858.4,1343.7 L858.7,1337.4 L859.1,1331.0 L859.5,1324.7 L859.9,1318.3 L860.3,1312.1 L860.6,1306.0 L861.0,1300.0 L861.3,1294.8 L861.7,1289.7 L862.0,1284.8 L862.3,1279.9 L862.6,1275.0 L863.0,1270.1 L863.2,1265.1 L863.5,1260.0 L863.7,1254.5 L863.9,1248.8 L864.1,1243.0 L864.2,1237.2 L864.4,1231.4 L864.5,1225.8 L864.7,1220.3 L865.0,1215.0 L865.3,1210.7 L865.5,1206.6 L865.8,1202.6 L866.1,1198.6 L866.4,1194.7 L866.8,1190.8 L867.1,1186.9 L867.5,1183.0 L867.8,1179.0 L868.1,1174.7 L868.3,1170.5 L868.6,1166.2 L868.9,1162.1 L869.4,1158.3 L870.1,1154.9 L871.0,1152.0 L871.7,1150.5 L872.4,1149.1 L873.3,1147.9 L874.1,1146.8 L875.1,1145.7 L876.0,1144.8 L877.0,1143.9 L878.0,1143.0 L878.9,1142.3 L879.9,1141.6 L880.9,1140.9 L881.9,1140.4 L882.9,1139.8 L884.0,1139.3 L885.0,1138.9 L886.0,1138.5 L886.9,1138.2 L887.8,1137.8 L888.7,1137.5 L889.6,1137.2 L890.5,1136.9 L891.4,1136.8 L892.2,1136.8 L893.0,1137.0 L893.7,1137.4 L894.4,1137.9 L895.1,1138.5 L895.7,1139.3 L896.3,1140.2 L896.9,1141.1 L897.4,1142.0 L898.0,1143.0 L898.7,1144.4 L899.4,1145.9 L900.0,1147.5 L900.6,1149.3 L901.2,1151.1 L901.8,1153.0 L902.4,1155.0 L903.0,1157.0 L904.0,1160.0 L905.0,1163.2 L906.0,1166.6 L907.0,1170.2 L908.1,1173.8 L909.1,1177.6 L910.1,1181.3 L911.0,1185.0 L912.0,1189.1 L912.9,1193.2 L913.9,1197.4 L914.8,1201.7 L915.6,1206.0 L916.5,1210.3 L917.3,1214.7 L918.0,1219.0 L918.7,1223.5 L919.2,1228.2 L919.6,1232.9 L920.1,1237.6 L920.5,1242.2 L921.0,1246.7 L921.7,1251.0 L922.5,1255.0 L923.3,1257.9 L924.2,1260.6 L925.2,1263.2 L926.2,1265.7 L927.2,1268.2 L928.2,1270.7 L929.2,1273.3 L930.0,1276.0 L930.8,1279.1 L931.4,1282.4 L932.0,1285.7 L932.5,1289.1 L933.0,1292.4 L933.6,1295.8 L934.2,1299.2 L935.0,1302.5 L935.9,1305.8 L936.9,1309.2 L938.0,1312.5 L939.1,1315.8 L940.3,1319.1 L941.5,1322.3 L942.7,1325.6 L943.8,1328.8 L944.8,1331.9 L945.8,1334.9 L946.8,1338.0 L947.8,1341.1 L948.8,1344.1 L949.9,1347.0 L951.1,1349.8 L952.5,1352.5 L953.9,1355.0 L955.4,1357.5 L957.0,1359.9 L958.7,1362.2 L960.4,1364.5 L962.2,1366.5 L964.1,1368.4 L966.0,1370.0 L967.6,1371.2 L969.3,1372.1 L971.0,1373.0 L972.8,1373.8 L974.5,1374.4 L976.3,1375.0 L978.2,1375.5 L980.0,1376.0 L981.9,1376.4 L983.7,1376.7 L985.6,1376.9 L987.5,1377.0 L989.4,1377.1 L991.4,1377.2 L993.4,1377.3 L995.5,1377.5 L998.1,1377.8 L1000.8,1378.1 L1003.5,1378.4 L1006.3,1378.7 L1009.2,1379.0 L1012.1,1379.4 L1015.0,1379.7 L1018.0,1380.0 L1021.3,1380.3 L1024.8,1380.6 L1028.4,1380.9 L1032.0,1381.2 L1035.5,1381.5 L1039.0,1381.8 L1042.3,1382.2 L1045.5,1382.5 L1047.9,1382.7 L1050.1,1382.9 L1052.3,1383.0 L1054.4,1383.1 L1056.5,1383.4 L1058.6,1383.7 L1060.8,1384.2 L1063.0,1385.0 L1066.0,1386.5 L1069.1,1388.5 L1072.3,1390.8 L1075.4,1393.3 L1078.6,1395.9 L1081.8,1398.4 L1084.9,1400.6 L1088.0,1402.5 L1090.5,1403.8 L1093.0,1404.9 L1095.4,1406.0 L1097.8,1407.0 L1100.2,1407.8 L1102.7,1408.6 L1105.3,1409.3 L1108.0,1410.0 L1111.2,1410.6 L1114.4,1411.1 L1117.7,1411.4 L1121.1,1411.7 L1124.6,1411.9 L1128.1,1412.1 L1131.8,1412.2 L1135.5,1412.5 L1140.1,1412.8 L1145.0,1413.1 L1150.0,1413.4 L1155.1,1413.7 L1160.2,1414.0 L1165.4,1414.3 L1170.5,1414.6 L1175.5,1415.0 L1180.4,1415.4 L1185.2,1415.8 L1190.0,1416.2 L1194.8,1416.7 L1199.6,1417.1 L1204.5,1417.6 L1209.4,1418.1 L1214.5,1418.6 L1220.4,1419.2 L1226.3,1419.8 L1232.4,1420.4 L1238.6,1421.0 L1244.8,1421.6 L1251.1,1422.3 L1257.3,1423.0 L1263.5,1423.7 L1269.8,1424.5 L1276.2,1425.4 L1282.6,1426.4 L1289.0,1427.3 L1295.4,1428.3 L1301.8,1429.2 L1308.2,1430.0 L1314.6,1430.8 L1321.0,1431.5 L1327.3,1432.2 L1333.7,1432.8 L1340.1,1433.4 L1346.4,1433.9 L1352.9,1434.4 L1359.3,1434.7 L1365.8,1434.9 L1372.6,1434.9 L1379.6,1434.5 L1386.6,1434.0 L1393.6,1433.5 L1400.6,1432.9 L1407.5,1432.6 L1414.3,1432.6 L1421.0,1432.9 L1427.1,1433.6 L1433.0,1434.7 L1438.9,1435.9 L1444.6,1437.4 L1450.4,1438.9 L1456.2,1440.4 L1462.1,1441.8 L1468.0,1443.1 L1474.2,1444.3 L1480.5,1445.6 L1486.8,1446.7 L1493.2,1447.9 L1499.6,1449.1 L1506.0,1450.2 L1512.5,1451.3 L1519.0,1452.3 L1525.9,1453.3 L1532.8,1454.3 L1539.8,1455.3 L1546.8,1456.2 L1553.9,1457.1 L1561.0,1458.0 L1568.0,1458.8 L1575.0,1459.6 L1581.9,1460.3 L1588.7,1461.0 L1595.5,1461.7 L1602.4,1462.3 L1609.2,1462.9 L1616.1,1463.4 L1623.0,1464.0 L1630.0,1464.5 L1637.3,1465.1 L1644.5,1465.6 L1651.8,1466.1 L1659.1,1466.6 L1666.5,1467.1 L1674.1,1467.5 L1681.9,1467.9 L1690.0,1468.2 L1700.3,1468.5 L1710.9,1468.7 L1721.9,1468.8 L1733.1,1468.9 L1744.6,1468.9 L1756.2,1468.9 L1768.0,1468.8 L1780.0,1468.6 L1794.2,1468.3 L1809.3,1468.0 L1824.7,1467.5 L1840.4,1467.0 L1855.8,1466.4 L1870.8,1465.8 L1884.9,1465.2 L1898.0,1464.6 L1906.7,1464.2 L1914.8,1463.7 L1922.6,1463.3 L1930.1,1462.8 L1937.4,1462.3 L1944.8,1461.9 L1952.2,1461.4 L1960.0,1461.0 L1969.3,1460.5 L1980.0,1460.1 L1991.2,1459.6 L2002.3,1459.1 L2012.3,1458.7 L2020.5,1458.3 L2026.0,1458.1 L2028.0,1458.0" stroke="#78000E" stroke-dasharray="31 32" stroke-dashoffset="0.0"/>
<path d="M452.9,1306.8 L453.0,1307.0 L453.4,1307.5 L454.0,1308.3 L454.7,1309.2 L455.6,1310.2 L456.4,1311.2 L457.2,1312.2 L458.0,1313.0 L458.7,1313.8 L459.5,1314.6 L460.3,1315.5 L461.1,1316.3 L461.9,1317.1 L462.7,1317.6 L463.5,1318.0 L464.2,1318.0 L465.0,1317.5 L465.8,1316.6 L466.6,1315.3 L467.3,1313.7 L468.0,1312.0 L468.7,1310.2 L469.4,1308.5 L470.0,1307.0 L470.6,1305.7 L471.1,1304.4 L471.5,1303.1 L472.0,1301.9 L472.4,1300.6 L472.9,1299.2 L473.3,1297.8 L473.9,1296.3 L474.8,1294.0 L475.7,1291.6 L476.7,1289.0 L477.7,1286.3 L478.8,1283.6 L479.8,1280.9 L480.9,1278.4 L481.9,1276.0 L482.7,1274.1 L483.5,1272.3 L484.3,1270.5 L485.1,1268.8 L485.9,1267.1 L486.7,1265.4 L487.5,1263.7 L488.4,1262.0 L489.3,1260.2 L490.2,1258.5 L491.2,1256.8 L492.1,1255.1 L493.1,1253.3 L494.1,1251.6 L495.0,1249.8 L496.0,1248.0 L497.0,1246.0 L497.9,1244.0 L498.9,1242.0 L499.8,1240.0 L500.8,1237.9 L501.8,1235.9 L502.9,1233.9 L504.0,1232.0 L505.2,1230.1 L506.5,1228.3 L507.9,1226.5 L509.3,1224.7 L510.7,1222.9 L512.2,1221.2 L513.6,1219.6 L515.0,1218.0 L516.2,1216.6 L517.5,1215.2 L518.7,1213.8 L519.9,1212.5 L521.2,1211.3 L522.4,1210.1 L523.7,1209.0 L525.0,1208.0 L526.1,1207.2 L527.2,1206.4 L528.3,1205.7 L529.5,1205.0 L530.6,1204.5 L531.7,1204.1 L532.9,1203.8 L534.0,1203.8 L535.3,1203.9 L536.5,1204.3 L537.9,1204.9 L539.2,1205.7 L540.4,1206.6 L541.7,1207.6 L542.9,1208.7 L544.0,1210.0 L545.6,1212.2 L547.0,1214.8 L548.3,1217.8 L549.5,1221.0 L550.6,1224.5 L551.7,1228.0 L552.9,1231.5 L554.0,1235.0 L555.3,1239.1 L556.6,1243.2 L557.9,1247.5 L559.1,1251.9 L560.4,1256.4 L561.6,1260.9 L562.8,1265.5 L564.0,1270.0 L565.3,1274.8 L566.5,1279.7 L567.7,1284.6 L569.0,1289.6 L570.2,1294.6 L571.4,1299.7 L572.7,1304.8 L574.0,1310.0 L575.5,1315.8 L577.0,1321.7 L578.5,1327.6 L580.1,1333.7 L581.7,1339.7 L583.3,1345.7 L584.9,1351.7 L586.5,1357.5 L588.0,1363.0 L589.5,1368.5 L590.9,1374.0 L592.4,1379.4 L593.9,1384.8 L595.5,1390.0 L597.2,1395.1 L599.0,1400.0 L600.6,1404.1 L602.3,1408.2 L604.0,1412.2 L605.8,1416.1 L607.6,1419.8 L609.6,1423.4 L611.7,1426.8 L614.0,1430.0 L616.2,1432.7 L618.6,1435.2 L621.1,1437.6 L623.7,1439.8 L626.4,1442.0 L629.0,1443.9 L631.6,1445.8 L634.0,1447.5 L635.8,1448.8 L637.6,1450.0 L639.4,1451.2 L641.1,1452.3 L642.8,1453.3 L644.6,1454.1 L646.3,1454.7 L648.0,1455.0 L649.5,1455.1 L651.0,1455.0 L652.5,1454.8 L654.0,1454.4 L655.5,1454.0 L657.0,1453.4 L658.5,1452.7 L660.0,1452.0 L661.9,1451.0 L663.7,1449.8 L665.6,1448.5 L667.5,1447.0 L669.4,1445.4 L671.2,1443.7 L673.1,1441.9 L675.0,1440.0 L677.5,1437.2 L680.0,1434.1 L682.5,1430.8 L685.0,1427.3 L687.6,1423.7 L690.1,1420.1 L692.5,1416.5 L695.0,1413.0 L697.4,1409.7 L699.9,1406.4 L702.3,1403.2 L704.7,1399.9 L707.1,1396.6 L709.4,1393.2 L711.7,1389.7 L714.0,1386.0 L716.5,1381.6 L719.0,1376.9 L721.5,1372.0 L723.9,1367.0 L726.2,1362.1 L728.5,1357.2 L730.8,1352.5 L733.0,1348.0 L734.8,1344.5 L736.5,1341.2 L738.2,1338.0 L739.9,1334.8 L741.6,1331.7 L743.2,1328.5 L744.9,1325.3 L746.5,1322.0 L748.2,1318.4 L749.8,1314.8 L751.4,1311.1 L753.0,1307.4 L754.7,1303.7 L756.4,1299.9 L758.1,1296.2 L760.0,1292.5 L762.1,1288.6 L764.4,1284.6 L766.8,1280.7 L769.3,1276.8 L771.7,1272.8 L774.1,1268.9 L776.5,1265.0 L778.8,1261.0 L780.9,1257.1 L783.1,1253.3 L785.2,1249.4 L787.2,1245.5 L789.2,1241.6 L791.2,1237.7 L793.1,1233.9 L795.0,1230.0 L796.7,1226.2 L798.3,1222.3 L799.9,1218.3 L801.4,1214.4 L803.0,1210.6 L804.5,1207.0 L806.0,1203.8 L807.5,1201.0 L808.4,1199.5 L809.4,1198.2 L810.3,1197.0 L811.2,1195.8 L812.1,1194.8 L813.0,1193.8 L814.0,1192.9 L815.0,1192.0 L815.9,1191.2 L816.9,1190.4 L817.8,1189.6 L818.8,1188.8 L819.8,1188.2 L820.8,1187.7 L821.7,1187.5 L822.5,1187.5 L823.3,1187.8 L824.1,1188.5 L824.8,1189.3 L825.5,1190.4 L826.1,1191.5 L826.8,1192.7 L827.4,1193.9 L828.0,1195.0 L828.6,1196.1 L829.2,1197.2 L829.8,1198.4 L830.4,1199.6 L830.9,1200.8 L831.4,1202.1 L832.0,1203.5 L832.5,1205.0 L833.3,1207.5 L834.2,1210.3 L835.0,1213.3 L835.9,1216.4 L836.7,1219.7 L837.4,1223.1 L838.2,1226.5 L838.8,1230.0 L839.5,1234.3 L840.0,1238.8 L840.4,1243.5 L840.8,1248.3 L841.2,1253.1 L841.6,1257.9 L842.0,1262.8 L842.5,1267.5 L843.1,1272.2 L843.6,1277.1 L844.2,1281.9 L844.8,1286.7 L845.5,1291.5 L846.1,1296.2 L846.8,1300.7 L847.5,1305.0 L848.1,1308.4 L848.7,1311.6 L849.3,1314.8 L849.9,1317.8 L850.5,1320.9 L851.1,1323.9 L851.8,1326.9 L852.5,1330.0 L853.2,1333.2 L853.9,1336.4 L854.7,1339.6 L855.4,1342.8 L856.2,1345.9 L857.0,1349.0 L857.9,1352.1 L858.8,1355.0 L859.7,1357.5 L860.6,1359.9 L861.5,1362.3 L862.5,1364.6 L863.5,1366.9 L864.5,1369.2 L865.4,1371.5 L866.3,1373.8 L867.1,1376.2 L867.9,1378.6 L868.6,1381.0 L869.3,1383.5 L870.0,1385.8 L870.7,1388.2 L871.6,1390.4 L872.5,1392.5 L873.3,1394.2 L874.2,1395.7 L875.1,1397.3 L876.0,1398.7 L877.0,1400.1 L878.1,1401.6 L879.2,1403.0 L880.5,1404.5 L882.4,1406.6 L884.4,1408.8 L886.6,1411.0 L889.0,1413.2 L891.5,1415.4 L894.0,1417.4 L896.5,1419.2 L899.0,1420.8 L901.3,1422.0 L903.6,1423.0 L905.9,1423.9 L908.3,1424.7 L910.8,1425.4 L913.2,1426.0 L915.6,1426.5 L918.0,1427.0 L920.4,1427.5 L923.0,1428.0 L925.6,1428.4 L928.1,1428.8 L930.6,1429.0 L932.9,1429.0 L935.0,1428.8 L936.8,1428.2 L937.9,1427.6 L938.8,1426.9 L939.6,1426.0 L940.4,1425.0 L941.0,1423.9 L941.7,1422.7 L942.3,1421.4 L943.0,1420.0 L944.3,1417.0 L945.5,1413.5 L946.6,1409.5 L947.7,1405.1 L948.7,1400.6 L949.7,1395.9 L950.8,1391.3 L951.8,1386.7 L953.0,1381.4 L954.2,1375.9 L955.3,1370.2 L956.4,1364.5 L957.5,1358.8 L958.6,1353.1 L959.7,1347.6 L960.7,1342.4 L961.5,1338.2 L962.3,1334.2 L963.1,1330.2 L963.8,1326.4 L964.6,1322.6 L965.3,1318.7 L966.1,1314.8 L967.0,1310.7 L968.0,1306.1 L969.1,1301.3 L970.3,1296.4 L971.5,1291.5 L972.7,1286.6 L973.8,1281.8 L974.9,1277.2 L975.9,1272.7 L976.6,1269.1 L977.3,1265.8 L977.9,1262.5 L978.5,1259.3 L979.1,1256.1 L979.7,1252.8 L980.4,1249.3 L981.1,1245.6 L982.1,1240.5 L983.2,1235.2 L984.4,1229.6 L985.6,1223.9 L986.8,1218.0 L988.0,1212.0 L989.2,1205.8 L990.3,1199.5 L991.6,1191.6 L993.0,1183.5 L994.3,1175.1 L995.7,1166.5 L996.9,1157.7 L998.2,1148.7 L999.4,1139.6 L1000.5,1130.4 L1001.7,1119.2 L1002.7,1107.4 L1003.7,1095.1 L1004.7,1082.6 L1005.6,1070.4 L1006.5,1058.7 L1007.5,1047.9 L1008.5,1038.2 L1009.2,1032.5 L1009.9,1026.9 L1010.6,1021.6 L1011.3,1016.6 L1012.0,1011.9 L1012.8,1007.5 L1013.6,1003.5 L1014.5,1000.0 L1015.0,998.1 L1015.6,996.2 L1016.1,994.4 L1016.7,992.7 L1017.3,991.2 L1017.8,990.1 L1018.4,989.3 L1019.0,989.0 L1019.4,989.1 L1019.9,989.5 L1020.4,990.1 L1020.8,991.0 L1021.3,991.9 L1021.7,992.9 L1022.1,994.0 L1022.5,995.0 L1023.1,996.8 L1023.5,998.9 L1023.9,1001.1 L1024.2,1003.6 L1024.6,1006.2 L1024.9,1009.0 L1025.2,1012.0 L1025.5,1015.2 L1026.2,1021.9 L1026.8,1029.6 L1027.4,1038.1 L1028.0,1047.2 L1028.6,1056.6 L1029.2,1066.1 L1029.8,1075.4 L1030.5,1084.3 L1031.2,1092.9 L1031.9,1101.6 L1032.6,1110.3 L1033.3,1118.9 L1034.1,1127.6 L1034.8,1136.2 L1035.6,1144.9 L1036.4,1153.5 L1037.2,1162.1 L1038.1,1170.8 L1038.9,1179.5 L1039.8,1188.1 L1040.7,1196.8 L1041.6,1205.4 L1042.4,1214.0 L1043.3,1222.6 L1044.1,1231.1 L1044.9,1239.7 L1045.7,1248.4 L1046.5,1257.0 L1047.3,1265.5 L1048.1,1273.9 L1049.0,1282.1 L1050.0,1290.0 L1050.9,1296.7 L1051.8,1303.3 L1052.7,1309.7 L1053.6,1316.1 L1054.6,1322.3 L1055.7,1328.3 L1056.8,1334.3 L1058.0,1340.0 L1059.1,1344.7 L1060.2,1349.3 L1061.4,1353.8 L1062.6,1358.1 L1063.9,1362.4 L1065.2,1366.6 L1066.6,1370.8 L1068.0,1375.0 L1069.3,1379.0 L1070.7,1383.1 L1072.0,1387.2 L1073.4,1391.2 L1074.9,1395.0 L1076.5,1398.7 L1078.2,1402.0 L1080.0,1405.0 L1081.4,1406.9 L1082.8,1408.7 L1084.3,1410.4 L1085.9,1411.8 L1087.5,1413.2 L1089.2,1414.5 L1091.0,1415.8 L1093.0,1417.0 L1095.6,1418.4 L1098.3,1419.6 L1101.2,1420.8 L1104.3,1421.8 L1107.5,1422.7 L1110.9,1423.6 L1114.4,1424.3 L1118.0,1425.0 L1123.5,1425.7 L1129.5,1426.2 L1135.9,1426.4 L1142.5,1426.5 L1149.2,1426.5 L1155.8,1426.5 L1162.1,1426.7 L1168.0,1427.0 L1172.5,1427.4 L1176.8,1427.8 L1180.9,1428.3 L1184.9,1428.7 L1188.9,1429.2 L1193.1,1429.8 L1197.5,1430.3 L1202.2,1430.8 L1209.0,1431.5 L1216.3,1432.1 L1223.9,1432.8 L1231.8,1433.5 L1239.8,1434.2 L1247.8,1435.0 L1255.7,1435.9 L1263.5,1437.0 L1271.1,1438.3 L1278.7,1439.7 L1286.1,1441.3 L1293.6,1443.0 L1301.2,1444.7 L1308.9,1446.3 L1316.8,1447.9 L1324.9,1449.2 L1334.4,1450.5 L1344.0,1451.8 L1353.8,1452.9 L1363.8,1453.9 L1374.1,1454.8 L1384.6,1455.7 L1395.4,1456.6 L1406.6,1457.4 L1421.2,1458.4 L1436.6,1459.3 L1452.6,1460.1 L1468.9,1460.9 L1485.4,1461.6 L1501.9,1462.3 L1518.2,1462.9 L1534.0,1463.5 L1548.7,1464.0 L1563.1,1464.5 L1577.4,1464.8 L1591.6,1465.2 L1605.9,1465.5 L1620.3,1465.9 L1635.0,1466.4 L1650.0,1467.0 L1667.3,1467.9 L1685.2,1469.0 L1703.5,1470.3 L1721.9,1471.7 L1740.3,1472.9 L1758.4,1473.9 L1776.0,1474.7 L1793.0,1475.0 L1807.0,1474.9 L1820.5,1474.4 L1833.7,1473.7 L1846.6,1472.8 L1859.5,1471.9 L1872.5,1471.1 L1885.6,1470.4 L1899.0,1470.0 L1914.3,1469.9 L1930.8,1469.9 L1948.0,1470.2 L1965.0,1470.5 L1981.1,1470.8 L1995.7,1471.0 L2007.9,1471.1 L2017.0,1471.0 L2019.4,1470.9 L2021.8,1470.7 L2024.0,1470.6 L2025.9,1470.4 L2027.6,1470.3 L2028.9,1470.1 L2029.7,1470.0 L2030.0,1470.0" stroke="#A07876"/>
</g>
<rect x="259.7" y="19.1" width="2018.4999999999998" height="1625.4" fill="none" stroke="#000" stroke-width="5.8"/>
<path d="M258.9,1644.5 V1659.7 M385.1,1644.5 V1676.0 M511.3,1644.5 V1659.7 M637.6,1644.5 V1676.0 M763.8,1644.5 V1659.7 M890.0,1644.5 V1676.0 M1016.2,1644.5 V1659.7 M1142.5,1644.5 V1676.0 M1268.7,1644.5 V1659.7 M1394.9,1644.5 V1676.0 M1521.2,1644.5 V1659.7 M1647.4,1644.5 V1676.0 M1773.6,1644.5 V1659.7 M1899.9,1644.5 V1676.0 M2026.1,1644.5 V1659.7 M2152.3,1644.5 V1676.0 M2278.6,1644.5 V1659.7 M259.7,1644.0 H243.79999999999998 M259.7,1481.5 H228.1 M259.7,1319.0 H243.79999999999998 M259.7,1156.5 H228.1 M259.7,994.0 H243.79999999999998 M259.7,831.5 H228.1 M259.7,669.0 H243.79999999999998 M259.7,506.5 H228.1 M259.7,344.0 H243.79999999999998 M259.7,181.5 H228.1 M259.7,19.0 H243.79999999999998" stroke="#000" stroke-width="5.8" fill="none"/>
<g transform="translate(385.1,1751.5) scale(1,1.04)"><text x="0" y="0" font-size="68" text-anchor="middle" >0</text></g>
<g transform="translate(637.6,1751.5) scale(1,1.04)"><text x="0" y="0" font-size="68" text-anchor="middle" >100</text></g>
<g transform="translate(890.0,1751.5) scale(1,1.04)"><text x="0" y="0" font-size="68" text-anchor="middle" >200</text></g>
<g transform="translate(1142.5,1751.5) scale(1,1.04)"><text x="0" y="0" font-size="68" text-anchor="middle" >300</text></g>
<g transform="translate(1394.9,1751.5) scale(1,1.04)"><text x="0" y="0" font-size="68" text-anchor="middle" >400</text></g>
<g transform="translate(1647.4,1751.5) scale(1,1.04)"><text x="0" y="0" font-size="68" text-anchor="middle" >500</text></g>
<g transform="translate(1899.9,1751.5) scale(1,1.04)"><text x="0" y="0" font-size="68" text-anchor="middle" >600</text></g>
<g transform="translate(2152.3,1751.5) scale(1,1.04)"><text x="0" y="0" font-size="68" text-anchor="middle" >700</text></g>
<g transform="translate(203.2,1502.5) scale(1,1.04)"><text x="0" y="0" font-size="68" text-anchor="end" >0.0</text></g>
<g transform="translate(203.2,1177.5) scale(1,1.04)"><text x="0" y="0" font-size="68" text-anchor="end" >0.5</text></g>
<g transform="translate(203.2,852.5) scale(1,1.04)"><text x="0" y="0" font-size="68" text-anchor="end" >1.0</text></g>
<g transform="translate(203.2,527.5) scale(1,1.04)"><text x="0" y="0" font-size="68" text-anchor="end" >1.5</text></g>
<g transform="translate(203.2,202.5) scale(1,1.04)"><text x="0" y="0" font-size="68" text-anchor="end" >2.0</text></g>
<g transform="translate(1268.0,1853.3) scale(1,1.04)"><text x="0" y="0" font-size="70" text-anchor="middle" >Temperature (°C)</text></g>
<g transform="translate(68.6,828.5) rotate(-90) scale(1,1.04)"><text x="0" y="0" font-size="69" text-anchor="middle">Derivatives weight (%/°C)</text></g>
<rect x="1450.5" y="152.5" width="687.5" height="630" fill="#fff" stroke="#333" stroke-width="3"/>
<path d="M1455.5,195.7 H1603" stroke="#828282" stroke-width="4.7" stroke-dasharray="31.5 31.5" fill="none"/>
<g transform="translate(1616.5,217.0) scale(1,1.04)"><text x="0" y="0" font-size="62.7" text-anchor="start" >KA</text></g>
<path d="M1455.5,273.4 H1603" stroke="#E46C75" stroke-width="4.7" fill="none"/>
<g transform="translate(1616.5,294.6) scale(1,1.04)"><text x="0" y="0" font-size="62.7" text-anchor="start" >KA+G+10%CNF</text></g>
<path d="M1455.5,351.1 H1603" stroke="#5B8FD0" stroke-width="4.7" stroke-dasharray="31.5 31.5" fill="none"/>
<g transform="translate(1616.5,372.3) scale(1,1.04)"><text x="0" y="0" font-size="62.7" text-anchor="start" >KC</text></g>
<path d="M1455.5,428.8 H1603" stroke="#5DCA9B" stroke-width="4.7" fill="none"/>
<g transform="translate(1616.5,449.9) scale(1,1.04)"><text x="0" y="0" font-size="62.7" text-anchor="start" >KC+G+10%CNF</text></g>
<path d="M1455.5,506.5 H1603" stroke="#EC4A98" stroke-width="4.7" stroke-dasharray="31.5 31.5" fill="none"/>
<g transform="translate(1616.5,527.6) scale(1,1.04)"><text x="0" y="0" font-size="62.7" text-anchor="start" >RC</text></g>
<path d="M1455.5,584.2 H1603" stroke="#F4C81C" stroke-width="4.7" fill="none"/>
<g transform="translate(1616.5,605.2) scale(1,1.04)"><text x="0" y="0" font-size="62.7" text-anchor="start" >RC+G+10%CNF</text></g>
<path d="M1455.5,661.9 H1603" stroke="#78000E" stroke-width="4.7" stroke-dasharray="31.5 31.5" fill="none"/>
<g transform="translate(1616.5,682.8) scale(1,1.04)"><text x="0" y="0" font-size="62.7" text-anchor="start" >SRC</text></g>
<path d="M1455.5,739.6 H1603" stroke="#A07876" stroke-width="4.7" fill="none"/>
<g transform="translate(1616.5,760.5) scale(1,1.04)"><text x="0" y="0" font-size="62.7" text-anchor="start" >SRC+G+10%CNF</text></g>
<g transform="translate(784.6,110.7) scale(1,1.04)"><text x="0" y="0" font-size="60.5" text-anchor="start" >T</text></g><g transform="translate(822.5,126.0) scale(1,1.04)"><text x="0" y="0" font-size="38" text-anchor="start" >g</text></g><g transform="translate(852.9,110.7) scale(1,1.04)"><text x="0" y="0" font-size="60.5" text-anchor="middle" >:</text></g><g transform="translate(878.8,110.7) scale(1,1.04)"><text x="0" y="0" font-size="60.5" text-anchor="start" >243.28°C</text></g>
<g transform="translate(1036.2,521.8) scale(1,1.04)"><text x="0" y="0" font-size="61" text-anchor="start" >T</text></g><g transform="translate(1073.2,537.1) scale(1,1.04)"><text x="0" y="0" font-size="38" text-anchor="start" >g</text></g><g transform="translate(1104.5,521.8) scale(1,1.04)"><text x="0" y="0" font-size="61" text-anchor="middle" >:</text></g><g transform="translate(1130.2,521.8) scale(1,1.04)"><text x="0" y="0" font-size="61" text-anchor="start" >249.53°C</text></g>
<g transform="translate(625.5,814.6) scale(1,1.04)"><text x="0" y="0" font-size="60.5" text-anchor="start" >T</text></g><g transform="translate(662.4,829.9) scale(1,1.04)"><text x="0" y="0" font-size="38" text-anchor="start" >g</text></g><g transform="translate(693.8,814.6) scale(1,1.04)"><text x="0" y="0" font-size="60.5" text-anchor="middle" >:</text></g><g transform="translate(718.3,814.6) scale(1,1.04)"><text x="0" y="0" font-size="60.5" text-anchor="start" >189.62°C</text></g>
<g transform="translate(1048.9,873.0) scale(1,1.04)"><text x="0" y="0" font-size="61" text-anchor="start" >T</text></g><g transform="translate(1085.8,888.3) scale(1,1.04)"><text x="0" y="0" font-size="38" text-anchor="start" >g</text></g><g transform="translate(1117.2,873.0) scale(1,1.04)"><text x="0" y="0" font-size="61" text-anchor="middle" >:</text></g><g transform="translate(1141.8,873.0) scale(1,1.04)"><text x="0" y="0" font-size="61" text-anchor="start" >250.62°C</text></g>
<g transform="translate(458.2,935.2) scale(1,1.04)"><text x="0" y="0" font-size="58.8" text-anchor="start" >T</text></g><g transform="translate(494.1,950.5) scale(1,1.04)"><text x="0" y="0" font-size="38" text-anchor="start" >g</text></g><g transform="translate(526.4,935.2) scale(1,1.04)"><text x="0" y="0" font-size="58.8" text-anchor="middle" >:</text></g><g transform="translate(549.5,935.2) scale(1,1.04)"><text x="0" y="0" font-size="58.8" text-anchor="start" >189.38°C</text></g>
<path d="M1042.0,134.9 L1023.3,177.0" stroke="#000" stroke-width="2"/><path d="M1006.3,215.4 L1013.7,172.7 L1032.9,181.3 Z" fill="#000"/>
<path d="M1064.1,542.9 L1034.0,610.6" stroke="#000" stroke-width="2"/><path d="M1017.0,649.0 L1024.4,606.4 L1043.6,614.9 Z" fill="#000"/>
<path d="M926.7,840.5 L894.2,911.2" stroke="#000" stroke-width="2"/><path d="M876.6,949.4 L884.6,906.9 L903.7,915.6 Z" fill="#000"/>
<path d="M794.8,934.6 L811.8,938.5" stroke="#000" stroke-width="2"/><path d="M852.8,947.8 L809.5,948.7 L814.2,928.2 Z" fill="#000"/>
<path d="M1070.8,881.7 L1038.7,950.9" stroke="#000" stroke-width="2"/><path d="M1021.0,989.0 L1029.2,946.5 L1048.2,955.3 Z" fill="#000"/>
</g></svg>
</body></html>
